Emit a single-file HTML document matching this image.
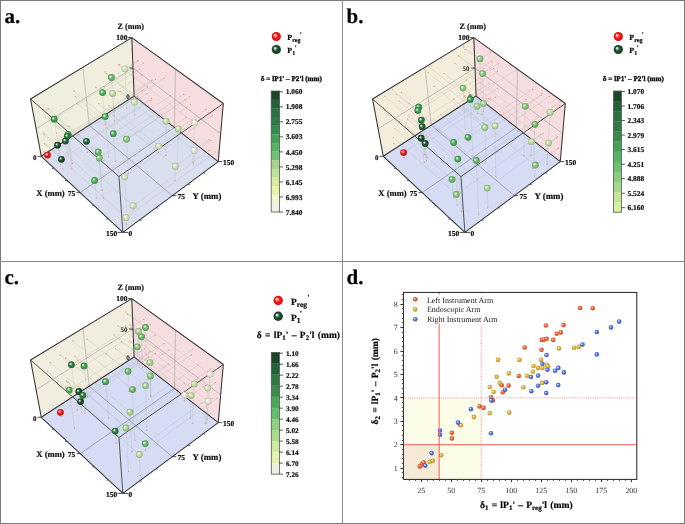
<!DOCTYPE html>
<html><head><meta charset="utf-8"><style>html,body{margin:0;padding:0;background:#fff;width:685px;height:524px;overflow:hidden}svg{display:block;will-change:transform}text{text-rendering:geometricPrecision}text[font-weight=bold]{stroke:#111;stroke-width:.2}</style></head>
<body><svg width="685" height="524" viewBox="0 0 685 524" font-family="'Liberation Serif', serif">
<defs><radialGradient id="g1" cx="0.5" cy="0.5" r="0.5" fx="0.33" fy="0.33"><stop offset="0" stop-color="#fcfdfb"/><stop offset="0.12" stop-color="#f8faf4"/><stop offset="0.35" stop-color="#e0eacb"/><stop offset="0.55" stop-color="#d4e2b6"/><stop offset="0.85" stop-color="#becba3"/><stop offset="1" stop-color="#a9b491"/></radialGradient><radialGradient id="g2" cx="0.5" cy="0.5" r="0.5" fx="0.33" fy="0.33"><stop offset="0" stop-color="#f7fbf7"/><stop offset="0.12" stop-color="#e8f4e7"/><stop offset="0.35" stop-color="#93ce92"/><stop offset="0.55" stop-color="#66b964"/><stop offset="0.85" stop-color="#5ba65a"/><stop offset="1" stop-color="#519450"/></radialGradient><radialGradient id="g3" cx="0.5" cy="0.5" r="0.5" fx="0.33" fy="0.33"><stop offset="0" stop-color="#f6faf6"/><stop offset="0.12" stop-color="#e4f2e5"/><stop offset="0.35" stop-color="#81c388"/><stop offset="0.55" stop-color="#4caa56"/><stop offset="0.85" stop-color="#44994d"/><stop offset="1" stop-color="#3c8844"/></radialGradient><radialGradient id="g4" cx="0.5" cy="0.5" r="0.5" fx="0.33" fy="0.33"><stop offset="0" stop-color="#fbfdfa"/><stop offset="0.12" stop-color="#f5f9f0"/><stop offset="0.35" stop-color="#d1e6b9"/><stop offset="0.55" stop-color="#bedc9c"/><stop offset="0.85" stop-color="#abc68c"/><stop offset="1" stop-color="#98b07c"/></radialGradient><radialGradient id="g5" cx="0.5" cy="0.5" r="0.5" fx="0.33" fy="0.33"><stop offset="0" stop-color="#f5f9f5"/><stop offset="0.12" stop-color="#e1efe3"/><stop offset="0.35" stop-color="#74b880"/><stop offset="0.55" stop-color="#399a4a"/><stop offset="0.85" stop-color="#338a42"/><stop offset="1" stop-color="#2d7b3b"/></radialGradient><radialGradient id="g6" cx="0.5" cy="0.5" r="0.5" fx="0.33" fy="0.33"><stop offset="0" stop-color="#f4f8f5"/><stop offset="0.12" stop-color="#dfebe2"/><stop offset="0.35" stop-color="#69a177"/><stop offset="0.55" stop-color="#2a7a3e"/><stop offset="0.85" stop-color="#256d37"/><stop offset="1" stop-color="#216131"/></radialGradient><radialGradient id="g7" cx="0.5" cy="0.5" r="0.5" fx="0.33" fy="0.33"><stop offset="0" stop-color="#f3f7f5"/><stop offset="0.12" stop-color="#dde7e1"/><stop offset="0.35" stop-color="#639075"/><stop offset="0.55" stop-color="#21613a"/><stop offset="0.85" stop-color="#1d5734"/><stop offset="1" stop-color="#1a4d2e"/></radialGradient><radialGradient id="g8" cx="0.5" cy="0.5" r="0.5" fx="0.33" fy="0.33"><stop offset="0" stop-color="#f3f5f4"/><stop offset="0.12" stop-color="#dce3df"/><stop offset="0.35" stop-color="#5f8069"/><stop offset="0.55" stop-color="#1b4a2a"/><stop offset="0.85" stop-color="#184225"/><stop offset="1" stop-color="#153b21"/></radialGradient><radialGradient id="g9" cx="0.5" cy="0.5" r="0.5" fx="0.33" fy="0.33"><stop offset="0" stop-color="#f8fcf8"/><stop offset="0.12" stop-color="#ecf6ea"/><stop offset="0.35" stop-color="#a8d7a0"/><stop offset="0.55" stop-color="#84c678"/><stop offset="0.85" stop-color="#76b26c"/><stop offset="1" stop-color="#699e60"/></radialGradient><radialGradient id="g10" cx="0.5" cy="0.5" r="0.5" fx="0.33" fy="0.33"><stop offset="0" stop-color="#fdfdfc"/><stop offset="0.12" stop-color="#fafbf8"/><stop offset="0.35" stop-color="#eceedf"/><stop offset="0.55" stop-color="#e4e8d2"/><stop offset="0.85" stop-color="#cdd0bd"/><stop offset="1" stop-color="#b6b9a8"/></radialGradient><radialGradient id="g11" cx="0.5" cy="0.5" r="0.5" fx="0.33" fy="0.33"><stop offset="0" stop-color="#fef3f3"/><stop offset="0.12" stop-color="#fcdbdb"/><stop offset="0.35" stop-color="#f15a5a"/><stop offset="0.55" stop-color="#ec1414"/><stop offset="0.85" stop-color="#d41212"/><stop offset="1" stop-color="#bc1010"/></radialGradient><radialGradient id="g12" cx="0.5" cy="0.5" r="0.5" fx="0.33" fy="0.33"><stop offset="0" stop-color="#fef3f3"/><stop offset="0.12" stop-color="#fedbdb"/><stop offset="0.35" stop-color="#fb5a5a"/><stop offset="0.55" stop-color="#fa1414"/><stop offset="0.85" stop-color="#e11212"/><stop offset="1" stop-color="#c81010"/></radialGradient><radialGradient id="g13" cx="0.5" cy="0.5" r="0.5" fx="0.33" fy="0.33"><stop offset="0" stop-color="#fafcf9"/><stop offset="0.12" stop-color="#f1f8ed"/><stop offset="0.35" stop-color="#bddfae"/><stop offset="0.55" stop-color="#a2d28c"/><stop offset="0.85" stop-color="#91bd7e"/><stop offset="1" stop-color="#81a870"/></radialGradient><radialGradient id="g14" cx="0.5" cy="0.5" r="0.5" fx="0.33" fy="0.33"><stop offset="0" stop-color="#fef6f4"/><stop offset="0.12" stop-color="#fce6df"/><stop offset="0.35" stop-color="#f48b69"/><stop offset="0.55" stop-color="#f05a2a"/><stop offset="0.85" stop-color="#d85125"/><stop offset="1" stop-color="#c04821"/></radialGradient><radialGradient id="g15" cx="0.5" cy="0.5" r="0.5" fx="0.33" fy="0.33"><stop offset="0" stop-color="#fdfaf4"/><stop offset="0.12" stop-color="#f9f2df"/><stop offset="0.35" stop-color="#e6c66b"/><stop offset="0.55" stop-color="#dcae2c"/><stop offset="0.85" stop-color="#c69c27"/><stop offset="1" stop-color="#b08b23"/></radialGradient><radialGradient id="g16" cx="0.5" cy="0.5" r="0.5" fx="0.33" fy="0.33"><stop offset="0" stop-color="#f6f7fd"/><stop offset="0.12" stop-color="#e4e9fa"/><stop offset="0.35" stop-color="#8499e7"/><stop offset="0.55" stop-color="#506ede"/><stop offset="0.85" stop-color="#4863c7"/><stop offset="1" stop-color="#4058b1"/></radialGradient></defs>
<rect width="685" height="524" fill="#fff"/>
<polygon points="41.28,156.28 134.14,96.04 131.79,37.65 30.51,98.95" fill="#f0eedd"/>
<polygon points="134.14,96.04 218.26,161.56 223.31,103.52 131.79,37.65" fill="#f5dde0"/>
<polygon points="41.28,156.28 122.85,232.32 218.26,161.56 134.14,96.04" fill="#d9dfee"/>
<line x1="89.23" y1="125.17" x2="82.94" y2="67.21" stroke="#959595" stroke-width="0.5"/>
<line x1="36.12" y1="128.83" x2="133.01" y2="68" stroke="#959595" stroke-width="0.5"/>
<line x1="174.43" y1="127.42" x2="175.46" y2="69.08" stroke="#959595" stroke-width="0.5"/>
<line x1="133.01" y1="68" x2="220.67" y2="133.8" stroke="#959595" stroke-width="0.5"/>
<line x1="80.23" y1="192.58" x2="174.43" y2="127.42" stroke="#6a6e78" stroke-width="0.5"/>
<line x1="89.23" y1="125.17" x2="172.25" y2="195.68" stroke="#6a6e78" stroke-width="0.5"/>
<line x1="41.28" y1="156.28" x2="134.14" y2="96.04" stroke="#333" stroke-width="1.05"/>
<line x1="134.14" y1="96.04" x2="218.26" y2="161.56" stroke="#333" stroke-width="1.05"/>
<line x1="134.14" y1="96.04" x2="131.79" y2="37.65" stroke="#333" stroke-width="1.05"/>
<line x1="30.51" y1="98.95" x2="131.79" y2="37.65" stroke="#333" stroke-width="1.05"/>
<line x1="131.79" y1="37.65" x2="223.31" y2="103.52" stroke="#333" stroke-width="1.05"/>
<line x1="41.28" y1="156.28" x2="30.51" y2="98.95" stroke="#333" stroke-width="1.05"/>
<line x1="218.26" y1="161.56" x2="223.31" y2="103.52" stroke="#333" stroke-width="1.05"/>
<line x1="41.28" y1="156.28" x2="122.85" y2="232.32" stroke="#333" stroke-width="1.05"/>
<line x1="122.85" y1="232.32" x2="218.26" y2="161.56" stroke="#333" stroke-width="1.05"/>
<line x1="30.51" y1="98.95" x2="118.96" y2="176.51" stroke="#3a3a3a" stroke-width="0.85"/>
<line x1="118.96" y1="176.51" x2="223.31" y2="103.52" stroke="#3a3a3a" stroke-width="0.85"/>
<line x1="118.96" y1="176.51" x2="122.85" y2="232.32" stroke="#3a3a3a" stroke-width="0.85"/>
<line x1="124.9" y1="68.8" x2="126.93" y2="108.2" stroke="#a0a0a0" stroke-width="0.4" stroke-opacity="0.5"/>
<line x1="124.9" y1="68.8" x2="119.45" y2="64.67" stroke="#a0a0a0" stroke-width="0.4" stroke-opacity="0.5"/>
<line x1="124.9" y1="68.8" x2="138.03" y2="60.6" stroke="#a0a0a0" stroke-width="0.4" stroke-opacity="0.5"/>
<line x1="111.4" y1="77.5" x2="114.12" y2="116" stroke="#a0a0a0" stroke-width="0.4" stroke-opacity="0.5"/>
<line x1="111.4" y1="77.5" x2="106.39" y2="73.6" stroke="#a0a0a0" stroke-width="0.4" stroke-opacity="0.5"/>
<line x1="111.4" y1="77.5" x2="137.64" y2="61.1" stroke="#a0a0a0" stroke-width="0.4" stroke-opacity="0.5"/>
<line x1="102.6" y1="92.6" x2="105.29" y2="124.4" stroke="#a0a0a0" stroke-width="0.4" stroke-opacity="0.5"/>
<line x1="102.6" y1="92.6" x2="95.81" y2="87.16" stroke="#a0a0a0" stroke-width="0.4" stroke-opacity="0.5"/>
<line x1="102.6" y1="92.6" x2="139.73" y2="69.14" stroke="#a0a0a0" stroke-width="0.4" stroke-opacity="0.5"/>
<line x1="112.6" y1="93.5" x2="114.53" y2="120.8" stroke="#a0a0a0" stroke-width="0.4" stroke-opacity="0.5"/>
<line x1="112.6" y1="93.5" x2="104.1" y2="86.75" stroke="#a0a0a0" stroke-width="0.4" stroke-opacity="0.5"/>
<line x1="112.6" y1="93.5" x2="141.61" y2="75.02" stroke="#a0a0a0" stroke-width="0.4" stroke-opacity="0.5"/>
<line x1="134.3" y1="102" x2="134.82" y2="114.9" stroke="#a0a0a0" stroke-width="0.4" stroke-opacity="0.5"/>
<line x1="134.3" y1="102" x2="120.72" y2="91.34" stroke="#a0a0a0" stroke-width="0.4" stroke-opacity="0.5"/>
<line x1="134.3" y1="102" x2="147.26" y2="93.54" stroke="#a0a0a0" stroke-width="0.4" stroke-opacity="0.5"/>
<line x1="54.2" y1="119.2" x2="60.6" y2="159.49" stroke="#a0a0a0" stroke-width="0.4" stroke-opacity="0.5"/>
<line x1="54.2" y1="119.2" x2="43.58" y2="109.9" stroke="#a0a0a0" stroke-width="0.4" stroke-opacity="0.5"/>
<line x1="54.2" y1="119.2" x2="143.47" y2="63.05" stroke="#a0a0a0" stroke-width="0.4" stroke-opacity="0.5"/>
<line x1="105.2" y1="116.6" x2="108.59" y2="157.1" stroke="#a0a0a0" stroke-width="0.4" stroke-opacity="0.5"/>
<line x1="105.2" y1="116.6" x2="74.15" y2="90.98" stroke="#a0a0a0" stroke-width="0.4" stroke-opacity="0.5"/>
<line x1="105.2" y1="116.6" x2="164.16" y2="78.28" stroke="#a0a0a0" stroke-width="0.4" stroke-opacity="0.5"/>
<line x1="68" y1="134.3" x2="72.12" y2="163.4" stroke="#a0a0a0" stroke-width="0.4" stroke-opacity="0.5"/>
<line x1="68" y1="134.3" x2="49.88" y2="118.36" stroke="#a0a0a0" stroke-width="0.4" stroke-opacity="0.5"/>
<line x1="68" y1="134.3" x2="151.64" y2="80.31" stroke="#a0a0a0" stroke-width="0.4" stroke-opacity="0.5"/>
<line x1="67.3" y1="136.3" x2="72.01" y2="169.2" stroke="#a0a0a0" stroke-width="0.4" stroke-opacity="0.5"/>
<line x1="67.3" y1="136.3" x2="45.33" y2="116.91" stroke="#a0a0a0" stroke-width="0.4" stroke-opacity="0.5"/>
<line x1="67.3" y1="136.3" x2="155.49" y2="79.28" stroke="#a0a0a0" stroke-width="0.4" stroke-opacity="0.5"/>
<line x1="65.4" y1="140.9" x2="67.16" y2="152.9" stroke="#a0a0a0" stroke-width="0.4" stroke-opacity="0.5"/>
<line x1="65.4" y1="140.9" x2="56.6" y2="133.08" stroke="#a0a0a0" stroke-width="0.4" stroke-opacity="0.5"/>
<line x1="65.4" y1="140.9" x2="142.7" y2="90.74" stroke="#a0a0a0" stroke-width="0.4" stroke-opacity="0.5"/>
<line x1="57.5" y1="145.2" x2="60.61" y2="164.6" stroke="#a0a0a0" stroke-width="0.4" stroke-opacity="0.5"/>
<line x1="57.5" y1="145.2" x2="43.86" y2="132.89" stroke="#a0a0a0" stroke-width="0.4" stroke-opacity="0.5"/>
<line x1="57.5" y1="145.2" x2="147.45" y2="86.88" stroke="#a0a0a0" stroke-width="0.4" stroke-opacity="0.5"/>
<line x1="86.4" y1="141.3" x2="87.68" y2="152.4" stroke="#a0a0a0" stroke-width="0.4" stroke-opacity="0.5"/>
<line x1="86.4" y1="141.3" x2="68.99" y2="126.16" stroke="#a0a0a0" stroke-width="0.4" stroke-opacity="0.5"/>
<line x1="86.4" y1="141.3" x2="151.51" y2="98.41" stroke="#a0a0a0" stroke-width="0.4" stroke-opacity="0.5"/>
<line x1="113.3" y1="133.7" x2="115.33" y2="161.25" stroke="#a0a0a0" stroke-width="0.4" stroke-opacity="0.5"/>
<line x1="113.3" y1="133.7" x2="76.88" y2="103.24" stroke="#a0a0a0" stroke-width="0.4" stroke-opacity="0.5"/>
<line x1="113.3" y1="133.7" x2="170.12" y2="95.86" stroke="#a0a0a0" stroke-width="0.4" stroke-opacity="0.5"/>
<line x1="126.5" y1="139.2" x2="128.37" y2="173.5" stroke="#a0a0a0" stroke-width="0.4" stroke-opacity="0.5"/>
<line x1="126.5" y1="139.2" x2="75.38" y2="96.74" stroke="#a0a0a0" stroke-width="0.4" stroke-opacity="0.5"/>
<line x1="126.5" y1="139.2" x2="184.81" y2="99.76" stroke="#a0a0a0" stroke-width="0.4" stroke-opacity="0.5"/>
<line x1="61.4" y1="159.3" x2="62.83" y2="168.4" stroke="#a0a0a0" stroke-width="0.4" stroke-opacity="0.5"/>
<line x1="61.4" y1="159.3" x2="44.59" y2="143.92" stroke="#a0a0a0" stroke-width="0.4" stroke-opacity="0.5"/>
<line x1="61.4" y1="159.3" x2="151.16" y2="100.08" stroke="#a0a0a0" stroke-width="0.4" stroke-opacity="0.5"/>
<line x1="98.2" y1="152" x2="102.01" y2="190.4" stroke="#a0a0a0" stroke-width="0.4" stroke-opacity="0.5"/>
<line x1="98.2" y1="152" x2="48.37" y2="108.65" stroke="#a0a0a0" stroke-width="0.4" stroke-opacity="0.5"/>
<line x1="98.2" y1="152" x2="183.87" y2="94.44" stroke="#a0a0a0" stroke-width="0.4" stroke-opacity="0.5"/>
<line x1="99.3" y1="158" x2="103.25" y2="198.2" stroke="#a0a0a0" stroke-width="0.4" stroke-opacity="0.5"/>
<line x1="99.3" y1="158" x2="43.73" y2="109.35" stroke="#a0a0a0" stroke-width="0.4" stroke-opacity="0.5"/>
<line x1="99.3" y1="158" x2="189.79" y2="96.77" stroke="#a0a0a0" stroke-width="0.4" stroke-opacity="0.5"/>
<line x1="94.6" y1="180.4" x2="96.55" y2="198.2" stroke="#a0a0a0" stroke-width="0.4" stroke-opacity="0.5"/>
<line x1="94.6" y1="180.4" x2="43.8" y2="134.46" stroke="#a0a0a0" stroke-width="0.4" stroke-opacity="0.5"/>
<line x1="94.6" y1="180.4" x2="185.83" y2="117.44" stroke="#a0a0a0" stroke-width="0.4" stroke-opacity="0.5"/>
<line x1="124.6" y1="176.8" x2="126.93" y2="215.15" stroke="#a0a0a0" stroke-width="0.4" stroke-opacity="0.5"/>
<line x1="124.6" y1="176.8" x2="46.97" y2="109.12" stroke="#a0a0a0" stroke-width="0.4" stroke-opacity="0.5"/>
<line x1="124.6" y1="176.8" x2="212.39" y2="115.13" stroke="#a0a0a0" stroke-width="0.4" stroke-opacity="0.5"/>
<line x1="133.2" y1="205.7" x2="133.39" y2="209.5" stroke="#a0a0a0" stroke-width="0.4" stroke-opacity="0.5"/>
<line x1="133.2" y1="205.7" x2="59.75" y2="140.01" stroke="#a0a0a0" stroke-width="0.4" stroke-opacity="0.5"/>
<line x1="133.2" y1="205.7" x2="209.21" y2="150.37" stroke="#a0a0a0" stroke-width="0.4" stroke-opacity="0.5"/>
<line x1="126.1" y1="217.7" x2="126.52" y2="224.4" stroke="#a0a0a0" stroke-width="0.4" stroke-opacity="0.5"/>
<line x1="126.1" y1="217.7" x2="46.64" y2="145.1" stroke="#a0a0a0" stroke-width="0.4" stroke-opacity="0.5"/>
<line x1="126.1" y1="217.7" x2="215.63" y2="152.09" stroke="#a0a0a0" stroke-width="0.4" stroke-opacity="0.5"/>
<line x1="166.1" y1="121.2" x2="165.92" y2="155.4" stroke="#a0a0a0" stroke-width="0.4" stroke-opacity="0.5"/>
<line x1="166.1" y1="121.2" x2="108.68" y2="76.46" stroke="#a0a0a0" stroke-width="0.4" stroke-opacity="0.5"/>
<line x1="166.1" y1="121.2" x2="190.58" y2="104.49" stroke="#a0a0a0" stroke-width="0.4" stroke-opacity="0.5"/>
<line x1="178.3" y1="128.9" x2="177.36" y2="169.3" stroke="#a0a0a0" stroke-width="0.4" stroke-opacity="0.5"/>
<line x1="178.3" y1="128.9" x2="105.1" y2="72" stroke="#a0a0a0" stroke-width="0.4" stroke-opacity="0.5"/>
<line x1="178.3" y1="128.9" x2="206.26" y2="109.47" stroke="#a0a0a0" stroke-width="0.4" stroke-opacity="0.5"/>
<line x1="194.6" y1="122.9" x2="192.74" y2="162.4" stroke="#a0a0a0" stroke-width="0.4" stroke-opacity="0.5"/>
<line x1="194.6" y1="122.9" x2="118.26" y2="64.95" stroke="#a0a0a0" stroke-width="0.4" stroke-opacity="0.5"/>
<line x1="194.6" y1="122.9" x2="209.17" y2="112.72" stroke="#a0a0a0" stroke-width="0.4" stroke-opacity="0.5"/>
<line x1="158.7" y1="146.1" x2="158.74" y2="152.4" stroke="#a0a0a0" stroke-width="0.4" stroke-opacity="0.5"/>
<line x1="158.7" y1="146.1" x2="108.9" y2="105.74" stroke="#a0a0a0" stroke-width="0.4" stroke-opacity="0.5"/>
<line x1="158.7" y1="146.1" x2="184.06" y2="128.41" stroke="#a0a0a0" stroke-width="0.4" stroke-opacity="0.5"/>
<line x1="194.1" y1="150.4" x2="193.44" y2="164.1" stroke="#a0a0a0" stroke-width="0.4" stroke-opacity="0.5"/>
<line x1="194.1" y1="150.4" x2="119.08" y2="91.4" stroke="#a0a0a0" stroke-width="0.4" stroke-opacity="0.5"/>
<line x1="194.1" y1="150.4" x2="208.9" y2="139.75" stroke="#a0a0a0" stroke-width="0.4" stroke-opacity="0.5"/>
<line x1="175.2" y1="166.2" x2="174.91" y2="180.6" stroke="#a0a0a0" stroke-width="0.4" stroke-opacity="0.5"/>
<line x1="175.2" y1="166.2" x2="98.59" y2="103.6" stroke="#a0a0a0" stroke-width="0.4" stroke-opacity="0.5"/>
<line x1="175.2" y1="166.2" x2="210.93" y2="140.43" stroke="#a0a0a0" stroke-width="0.4" stroke-opacity="0.5"/>
<line x1="47.5" y1="155.1" x2="47.97" y2="157.74" stroke="#a0a0a0" stroke-width="0.4" stroke-opacity="0.5"/>
<line x1="47.5" y1="155.1" x2="43.8" y2="151.68" stroke="#a0a0a0" stroke-width="0.4" stroke-opacity="0.5"/>
<line x1="47.5" y1="155.1" x2="137.86" y2="96.31" stroke="#a0a0a0" stroke-width="0.4" stroke-opacity="0.5"/>
<circle cx="126.93" cy="108.2" r="0.65" fill="#f08a68" fill-opacity="0.8"/>
<circle cx="119.45" cy="64.67" r="0.65" fill="#f08a68" fill-opacity="0.8"/>
<circle cx="138.03" cy="60.6" r="0.65" fill="#f08a68" fill-opacity="0.8"/>
<circle cx="114.12" cy="116" r="0.65" fill="#f08a68" fill-opacity="0.8"/>
<circle cx="106.39" cy="73.6" r="0.65" fill="#f08a68" fill-opacity="0.8"/>
<circle cx="137.64" cy="61.1" r="0.65" fill="#f08a68" fill-opacity="0.8"/>
<circle cx="105.29" cy="124.4" r="0.65" fill="#f08a68" fill-opacity="0.8"/>
<circle cx="95.81" cy="87.16" r="0.65" fill="#f08a68" fill-opacity="0.8"/>
<circle cx="139.73" cy="69.14" r="0.65" fill="#f08a68" fill-opacity="0.8"/>
<circle cx="114.53" cy="120.8" r="0.65" fill="#f08a68" fill-opacity="0.8"/>
<circle cx="104.1" cy="86.75" r="0.65" fill="#f08a68" fill-opacity="0.8"/>
<circle cx="141.61" cy="75.02" r="0.65" fill="#f08a68" fill-opacity="0.8"/>
<circle cx="134.82" cy="114.9" r="0.65" fill="#f08a68" fill-opacity="0.8"/>
<circle cx="120.72" cy="91.34" r="0.65" fill="#f08a68" fill-opacity="0.8"/>
<circle cx="147.26" cy="93.54" r="0.65" fill="#f08a68" fill-opacity="0.8"/>
<circle cx="60.6" cy="159.49" r="0.65" fill="#f08a68" fill-opacity="0.8"/>
<circle cx="43.58" cy="109.9" r="0.65" fill="#f08a68" fill-opacity="0.8"/>
<circle cx="143.47" cy="63.05" r="0.65" fill="#f08a68" fill-opacity="0.8"/>
<circle cx="108.59" cy="157.1" r="0.65" fill="#f08a68" fill-opacity="0.8"/>
<circle cx="74.15" cy="90.98" r="0.65" fill="#f08a68" fill-opacity="0.8"/>
<circle cx="164.16" cy="78.28" r="0.65" fill="#f08a68" fill-opacity="0.8"/>
<circle cx="72.12" cy="163.4" r="0.65" fill="#f08a68" fill-opacity="0.8"/>
<circle cx="49.88" cy="118.36" r="0.65" fill="#f08a68" fill-opacity="0.8"/>
<circle cx="151.64" cy="80.31" r="0.65" fill="#f08a68" fill-opacity="0.8"/>
<circle cx="72.01" cy="169.2" r="0.65" fill="#f08a68" fill-opacity="0.8"/>
<circle cx="45.33" cy="116.91" r="0.65" fill="#f08a68" fill-opacity="0.8"/>
<circle cx="155.49" cy="79.28" r="0.65" fill="#f08a68" fill-opacity="0.8"/>
<circle cx="67.16" cy="152.9" r="0.65" fill="#f08a68" fill-opacity="0.8"/>
<circle cx="56.6" cy="133.08" r="0.65" fill="#f08a68" fill-opacity="0.8"/>
<circle cx="142.7" cy="90.74" r="0.65" fill="#f08a68" fill-opacity="0.8"/>
<circle cx="60.61" cy="164.6" r="0.65" fill="#f08a68" fill-opacity="0.8"/>
<circle cx="43.86" cy="132.89" r="0.65" fill="#f08a68" fill-opacity="0.8"/>
<circle cx="147.45" cy="86.88" r="0.65" fill="#f08a68" fill-opacity="0.8"/>
<circle cx="87.68" cy="152.4" r="0.65" fill="#f08a68" fill-opacity="0.8"/>
<circle cx="68.99" cy="126.16" r="0.65" fill="#f08a68" fill-opacity="0.8"/>
<circle cx="151.51" cy="98.41" r="0.65" fill="#f08a68" fill-opacity="0.8"/>
<circle cx="115.33" cy="161.25" r="0.65" fill="#f08a68" fill-opacity="0.8"/>
<circle cx="76.88" cy="103.24" r="0.65" fill="#f08a68" fill-opacity="0.8"/>
<circle cx="170.12" cy="95.86" r="0.65" fill="#f08a68" fill-opacity="0.8"/>
<circle cx="128.37" cy="173.5" r="0.65" fill="#f08a68" fill-opacity="0.8"/>
<circle cx="75.38" cy="96.74" r="0.65" fill="#f08a68" fill-opacity="0.8"/>
<circle cx="184.81" cy="99.76" r="0.65" fill="#f08a68" fill-opacity="0.8"/>
<circle cx="62.83" cy="168.4" r="0.65" fill="#f08a68" fill-opacity="0.8"/>
<circle cx="44.59" cy="143.92" r="0.65" fill="#f08a68" fill-opacity="0.8"/>
<circle cx="151.16" cy="100.08" r="0.65" fill="#f08a68" fill-opacity="0.8"/>
<circle cx="102.01" cy="190.4" r="0.65" fill="#f08a68" fill-opacity="0.8"/>
<circle cx="48.37" cy="108.65" r="0.65" fill="#f08a68" fill-opacity="0.8"/>
<circle cx="183.87" cy="94.44" r="0.65" fill="#f08a68" fill-opacity="0.8"/>
<circle cx="103.25" cy="198.2" r="0.65" fill="#f08a68" fill-opacity="0.8"/>
<circle cx="43.73" cy="109.35" r="0.65" fill="#f08a68" fill-opacity="0.8"/>
<circle cx="189.79" cy="96.77" r="0.65" fill="#f08a68" fill-opacity="0.8"/>
<circle cx="96.55" cy="198.2" r="0.65" fill="#f08a68" fill-opacity="0.8"/>
<circle cx="43.8" cy="134.46" r="0.65" fill="#f08a68" fill-opacity="0.8"/>
<circle cx="185.83" cy="117.44" r="0.65" fill="#f08a68" fill-opacity="0.8"/>
<circle cx="126.93" cy="215.15" r="0.65" fill="#f08a68" fill-opacity="0.8"/>
<circle cx="46.97" cy="109.12" r="0.65" fill="#f08a68" fill-opacity="0.8"/>
<circle cx="212.39" cy="115.13" r="0.65" fill="#f08a68" fill-opacity="0.8"/>
<circle cx="133.39" cy="209.5" r="0.65" fill="#f08a68" fill-opacity="0.8"/>
<circle cx="59.75" cy="140.01" r="0.65" fill="#f08a68" fill-opacity="0.8"/>
<circle cx="209.21" cy="150.37" r="0.65" fill="#f08a68" fill-opacity="0.8"/>
<circle cx="126.52" cy="224.4" r="0.65" fill="#f08a68" fill-opacity="0.8"/>
<circle cx="46.64" cy="145.1" r="0.65" fill="#f08a68" fill-opacity="0.8"/>
<circle cx="215.63" cy="152.09" r="0.65" fill="#f08a68" fill-opacity="0.8"/>
<circle cx="165.92" cy="155.4" r="0.65" fill="#f08a68" fill-opacity="0.8"/>
<circle cx="108.68" cy="76.46" r="0.65" fill="#f08a68" fill-opacity="0.8"/>
<circle cx="190.58" cy="104.49" r="0.65" fill="#f08a68" fill-opacity="0.8"/>
<circle cx="177.36" cy="169.3" r="0.65" fill="#f08a68" fill-opacity="0.8"/>
<circle cx="105.1" cy="72" r="0.65" fill="#f08a68" fill-opacity="0.8"/>
<circle cx="206.26" cy="109.47" r="0.65" fill="#f08a68" fill-opacity="0.8"/>
<circle cx="192.74" cy="162.4" r="0.65" fill="#f08a68" fill-opacity="0.8"/>
<circle cx="118.26" cy="64.95" r="0.65" fill="#f08a68" fill-opacity="0.8"/>
<circle cx="209.17" cy="112.72" r="0.65" fill="#f08a68" fill-opacity="0.8"/>
<circle cx="158.74" cy="152.4" r="0.65" fill="#f08a68" fill-opacity="0.8"/>
<circle cx="108.9" cy="105.74" r="0.65" fill="#f08a68" fill-opacity="0.8"/>
<circle cx="184.06" cy="128.41" r="0.65" fill="#f08a68" fill-opacity="0.8"/>
<circle cx="193.44" cy="164.1" r="0.65" fill="#f08a68" fill-opacity="0.8"/>
<circle cx="119.08" cy="91.4" r="0.65" fill="#f08a68" fill-opacity="0.8"/>
<circle cx="208.9" cy="139.75" r="0.65" fill="#f08a68" fill-opacity="0.8"/>
<circle cx="174.91" cy="180.6" r="0.65" fill="#f08a68" fill-opacity="0.8"/>
<circle cx="98.59" cy="103.6" r="0.65" fill="#f08a68" fill-opacity="0.8"/>
<circle cx="210.93" cy="140.43" r="0.65" fill="#f08a68" fill-opacity="0.8"/>
<circle cx="47.97" cy="157.74" r="0.65" fill="#f08a68" fill-opacity="0.8"/>
<circle cx="43.8" cy="151.68" r="0.65" fill="#f08a68" fill-opacity="0.8"/>
<circle cx="137.86" cy="96.31" r="0.65" fill="#f08a68" fill-opacity="0.8"/>
<text x="117.5" y="29.3" font-size="8.2" font-weight="bold" text-anchor="start" fill="#111">Z (mm)</text>
<text x="127.6" y="40" font-size="7.5" font-weight="bold" text-anchor="end" fill="#111">100</text>
<text style="stroke:none" x="129.8" y="98.6" font-size="7" font-weight="bold" text-anchor="end" fill="#222">0</text>
<text x="36.4" y="160.2" font-size="7" font-weight="bold" text-anchor="end" fill="#111">0</text>
<text x="36.3" y="196.4" font-size="8.6" font-weight="bold" text-anchor="start" fill="#111">X (mm)</text>
<text x="75.3" y="196.3" font-size="7.5" font-weight="bold" text-anchor="end" fill="#111">75</text>
<text x="117.2" y="236.3" font-size="7.5" font-weight="bold" text-anchor="end" fill="#111">150</text>
<text x="128.4" y="236.3" font-size="7.5" font-weight="bold" text-anchor="start" fill="#111">0</text>
<text x="177.6" y="198.8" font-size="7.5" font-weight="bold" text-anchor="start" fill="#111">75</text>
<text x="192.6" y="199.1" font-size="8.8" font-weight="bold" text-anchor="start" fill="#111">Y (mm)</text>
<text x="223" y="165" font-size="7.5" font-weight="bold" text-anchor="start" fill="#111">150</text>
<line x1="117.5" y1="232.4" x2="122.8" y2="232.4" stroke="#222" stroke-width="0.8"/>
<line x1="76.5" y1="192.6" x2="80.2" y2="192.6" stroke="#222" stroke-width="0.8"/>
<line x1="122.8" y1="232.4" x2="128" y2="232.4" stroke="#222" stroke-width="0.8"/>
<line x1="172.3" y1="195.7" x2="176.2" y2="195.7" stroke="#222" stroke-width="0.8"/>
<line x1="218.3" y1="161.6" x2="222.3" y2="161.6" stroke="#222" stroke-width="0.8"/>
<line x1="37.5" y1="156.3" x2="41.3" y2="156.3" stroke="#222" stroke-width="0.8"/>
<line x1="128" y1="37.6" x2="131.8" y2="37.6" stroke="#222" stroke-width="0.8"/>
<line x1="129.3" y1="68" x2="133" y2="68" stroke="#222" stroke-width="0.8"/>
<line x1="52.09" y1="168.63" x2="53.89" y2="168.03" stroke="#333" stroke-width="0.8"/>
<line x1="139.72" y1="219.81" x2="141.52" y2="220.41" stroke="#333" stroke-width="0.8"/>
<line x1="65.06" y1="180.72" x2="66.86" y2="180.12" stroke="#333" stroke-width="0.8"/>
<line x1="156.18" y1="207.6" x2="157.98" y2="208.2" stroke="#333" stroke-width="0.8"/>
<line x1="92.2" y1="206.02" x2="94" y2="205.42" stroke="#333" stroke-width="0.8"/>
<line x1="187.95" y1="184.04" x2="189.75" y2="184.64" stroke="#333" stroke-width="0.8"/>
<line x1="106.41" y1="219.26" x2="108.21" y2="218.66" stroke="#333" stroke-width="0.8"/>
<line x1="203.28" y1="172.67" x2="205.08" y2="173.27" stroke="#333" stroke-width="0.8"/>
<circle cx="124.9" cy="68.8" r="3.4" fill="url(#g1)"/>
<circle cx="111.4" cy="77.5" r="3.4" fill="url(#g2)"/>
<circle cx="102.6" cy="92.6" r="3.4" fill="url(#g3)"/>
<circle cx="112.6" cy="93.5" r="3.4" fill="url(#g4)"/>
<circle cx="134.3" cy="102" r="3.4" fill="url(#g1)"/>
<circle cx="54.2" cy="119.2" r="3.4" fill="url(#g5)"/>
<circle cx="105.2" cy="116.6" r="3.4" fill="url(#g3)"/>
<circle cx="68" cy="134.3" r="3.4" fill="url(#g5)"/>
<circle cx="67.3" cy="136.3" r="3.4" fill="url(#g6)"/>
<circle cx="65.4" cy="140.9" r="3.4" fill="url(#g7)"/>
<circle cx="57.5" cy="145.2" r="3.4" fill="url(#g8)"/>
<circle cx="86.4" cy="141.3" r="3.4" fill="url(#g7)"/>
<circle cx="113.3" cy="133.7" r="3.4" fill="url(#g3)"/>
<circle cx="126.5" cy="139.2" r="3.4" fill="url(#g9)"/>
<circle cx="61.4" cy="159.3" r="3.4" fill="url(#g8)"/>
<circle cx="98.2" cy="152" r="3.4" fill="url(#g2)"/>
<circle cx="99.3" cy="158" r="3.4" fill="url(#g9)"/>
<circle cx="94.6" cy="180.4" r="3.4" fill="url(#g3)"/>
<circle cx="124.6" cy="176.8" r="3.4" fill="url(#g1)"/>
<circle cx="133.2" cy="205.7" r="3.4" fill="url(#g1)"/>
<circle cx="126.1" cy="217.7" r="3.4" fill="url(#g1)"/>
<circle cx="166.1" cy="121.2" r="3.4" fill="url(#g4)"/>
<circle cx="178.3" cy="128.9" r="3.4" fill="url(#g4)"/>
<circle cx="194.6" cy="122.9" r="3.4" fill="url(#g10)"/>
<circle cx="158.7" cy="146.1" r="3.4" fill="url(#g1)"/>
<circle cx="194.1" cy="150.4" r="3.4" fill="url(#g10)"/>
<circle cx="175.2" cy="166.2" r="3.4" fill="url(#g1)"/>
<circle cx="47.5" cy="155.1" r="3.4" fill="url(#g11)"/>
<circle cx="276.3" cy="36.5" r="4.6" fill="url(#g12)"/>
<circle cx="276.3" cy="49.5" r="4.6" fill="url(#g8)"/>
<text x="287.3" y="39.6" font-size="8" font-weight="bold">P<tspan font-size="6" dy="2">reg</tspan></text>
<text x="299.8" y="37.4" font-size="7" font-weight="bold">'</text>
<text x="287.3" y="52.6" font-size="8" font-weight="bold">P<tspan font-size="6" dy="2">1</tspan></text>
<text x="294.8" y="50.2" font-size="7" font-weight="bold">'</text>
<text style="stroke-width:.35" x="291.4" y="80.8" font-size="7.2" font-weight="bold" text-anchor="middle" fill="#111">δ = lP1' – P2'l (mm)</text>
<rect x="271.2" y="91" width="8.4" height="8.94" fill="#1b4628"/>
<rect x="271.2" y="99.64" width="8.4" height="8.94" fill="#22603a"/>
<rect x="271.2" y="108.29" width="8.4" height="8.94" fill="#2a7040"/>
<rect x="271.2" y="116.93" width="8.4" height="8.94" fill="#2f7a44"/>
<rect x="271.2" y="125.57" width="8.4" height="8.94" fill="#378a4a"/>
<rect x="271.2" y="134.21" width="8.4" height="8.94" fill="#45a256"/>
<rect x="271.2" y="142.86" width="8.4" height="8.94" fill="#58b464"/>
<rect x="271.2" y="151.5" width="8.4" height="8.94" fill="#70c072"/>
<rect x="271.2" y="160.14" width="8.4" height="8.94" fill="#a8d490"/>
<rect x="271.2" y="168.79" width="8.4" height="8.94" fill="#bee29a"/>
<rect x="271.2" y="177.43" width="8.4" height="8.94" fill="#d6ec9e"/>
<rect x="271.2" y="186.07" width="8.4" height="8.94" fill="#e8f4a8"/>
<rect x="271.2" y="194.71" width="8.4" height="8.94" fill="#f3f6d0"/>
<rect x="271.2" y="203.36" width="8.4" height="8.94" fill="#f1eee2"/>
<rect x="271.2" y="91" width="8.4" height="121" fill="none" stroke="#555" stroke-width="0.8"/>
<line x1="279.6" y1="91.8" x2="283.1" y2="91.8" stroke="#333" stroke-width="0.8"/>
<text x="285.8" y="94.4" font-size="7.4" font-weight="bold" text-anchor="start" fill="#111">1.060</text>
<line x1="279.6" y1="106.83" x2="283.1" y2="106.83" stroke="#333" stroke-width="0.8"/>
<text x="285.8" y="109.42" font-size="7.4" font-weight="bold" text-anchor="start" fill="#111">1.908</text>
<line x1="279.6" y1="121.85" x2="283.1" y2="121.85" stroke="#333" stroke-width="0.8"/>
<text x="285.8" y="124.45" font-size="7.4" font-weight="bold" text-anchor="start" fill="#111">2.755</text>
<line x1="279.6" y1="136.88" x2="283.1" y2="136.88" stroke="#333" stroke-width="0.8"/>
<text x="285.8" y="139.47" font-size="7.4" font-weight="bold" text-anchor="start" fill="#111">3.603</text>
<line x1="279.6" y1="151.9" x2="283.1" y2="151.9" stroke="#333" stroke-width="0.8"/>
<text x="285.8" y="154.5" font-size="7.4" font-weight="bold" text-anchor="start" fill="#111">4.450</text>
<line x1="279.6" y1="166.93" x2="283.1" y2="166.93" stroke="#333" stroke-width="0.8"/>
<text x="285.8" y="169.53" font-size="7.4" font-weight="bold" text-anchor="start" fill="#111">5.298</text>
<line x1="279.6" y1="181.95" x2="283.1" y2="181.95" stroke="#333" stroke-width="0.8"/>
<text x="285.8" y="184.55" font-size="7.4" font-weight="bold" text-anchor="start" fill="#111">6.145</text>
<line x1="279.6" y1="196.97" x2="283.1" y2="196.97" stroke="#333" stroke-width="0.8"/>
<text x="285.8" y="199.57" font-size="7.4" font-weight="bold" text-anchor="start" fill="#111">6.993</text>
<line x1="279.6" y1="212" x2="283.1" y2="212" stroke="#333" stroke-width="0.8"/>
<text x="285.8" y="214.6" font-size="7.4" font-weight="bold" text-anchor="start" fill="#111">7.840</text>
<polygon points="383.28,156.28 476.14,96.04 473.79,37.65 372.51,98.95" fill="#f5eddc"/>
<polygon points="476.14,96.04 560.26,161.56 565.31,103.52 473.79,37.65" fill="#f5dde0"/>
<polygon points="383.28,156.28 464.85,232.32 560.26,161.56 476.14,96.04" fill="#d5dcf4"/>
<line x1="431.23" y1="125.17" x2="424.94" y2="67.21" stroke="#959595" stroke-width="0.5"/>
<line x1="378.12" y1="128.83" x2="475.01" y2="68" stroke="#959595" stroke-width="0.5"/>
<line x1="516.43" y1="127.42" x2="517.46" y2="69.08" stroke="#959595" stroke-width="0.5"/>
<line x1="475.01" y1="68" x2="562.67" y2="133.8" stroke="#959595" stroke-width="0.5"/>
<line x1="422.23" y1="192.58" x2="516.43" y2="127.42" stroke="#6a6e78" stroke-width="0.5"/>
<line x1="431.23" y1="125.17" x2="514.25" y2="195.68" stroke="#6a6e78" stroke-width="0.5"/>
<line x1="383.28" y1="156.28" x2="476.14" y2="96.04" stroke="#333" stroke-width="1.05"/>
<line x1="476.14" y1="96.04" x2="560.26" y2="161.56" stroke="#333" stroke-width="1.05"/>
<line x1="476.14" y1="96.04" x2="473.79" y2="37.65" stroke="#333" stroke-width="1.05"/>
<line x1="372.51" y1="98.95" x2="473.79" y2="37.65" stroke="#333" stroke-width="1.05"/>
<line x1="473.79" y1="37.65" x2="565.31" y2="103.52" stroke="#333" stroke-width="1.05"/>
<line x1="383.28" y1="156.28" x2="372.51" y2="98.95" stroke="#333" stroke-width="1.05"/>
<line x1="560.26" y1="161.56" x2="565.31" y2="103.52" stroke="#333" stroke-width="1.05"/>
<line x1="383.28" y1="156.28" x2="464.85" y2="232.32" stroke="#333" stroke-width="1.05"/>
<line x1="464.85" y1="232.32" x2="560.26" y2="161.56" stroke="#333" stroke-width="1.05"/>
<line x1="372.51" y1="98.95" x2="460.96" y2="176.51" stroke="#3a3a3a" stroke-width="0.85"/>
<line x1="460.96" y1="176.51" x2="565.31" y2="103.52" stroke="#3a3a3a" stroke-width="0.85"/>
<line x1="460.96" y1="176.51" x2="464.85" y2="232.32" stroke="#3a3a3a" stroke-width="0.85"/>
<line x1="480" y1="58.9" x2="481.84" y2="114.4" stroke="#a0a0a0" stroke-width="0.4" stroke-opacity="0.5"/>
<line x1="480" y1="58.9" x2="463.52" y2="46.75" stroke="#a0a0a0" stroke-width="0.4" stroke-opacity="0.5"/>
<line x1="480" y1="58.9" x2="490.43" y2="52.4" stroke="#a0a0a0" stroke-width="0.4" stroke-opacity="0.5"/>
<line x1="482.6" y1="73.6" x2="484.1" y2="123.4" stroke="#a0a0a0" stroke-width="0.4" stroke-opacity="0.5"/>
<line x1="482.6" y1="73.6" x2="458.59" y2="55.58" stroke="#a0a0a0" stroke-width="0.4" stroke-opacity="0.5"/>
<line x1="482.6" y1="73.6" x2="498.25" y2="63.65" stroke="#a0a0a0" stroke-width="0.4" stroke-opacity="0.5"/>
<line x1="463" y1="88.1" x2="465.4" y2="129.3" stroke="#a0a0a0" stroke-width="0.4" stroke-opacity="0.5"/>
<line x1="463" y1="88.1" x2="444.11" y2="73.34" stroke="#a0a0a0" stroke-width="0.4" stroke-opacity="0.5"/>
<line x1="463" y1="88.1" x2="493.55" y2="68.64" stroke="#a0a0a0" stroke-width="0.4" stroke-opacity="0.5"/>
<line x1="470.3" y1="99.5" x2="473.03" y2="155.37" stroke="#a0a0a0" stroke-width="0.4" stroke-opacity="0.5"/>
<line x1="470.3" y1="99.5" x2="428.84" y2="66.85" stroke="#a0a0a0" stroke-width="0.4" stroke-opacity="0.5"/>
<line x1="470.3" y1="99.5" x2="515.94" y2="69.9" stroke="#a0a0a0" stroke-width="0.4" stroke-opacity="0.5"/>
<line x1="477" y1="106.2" x2="477.28" y2="113.3" stroke="#a0a0a0" stroke-width="0.4" stroke-opacity="0.5"/>
<line x1="477" y1="106.2" x2="464.42" y2="96.27" stroke="#a0a0a0" stroke-width="0.4" stroke-opacity="0.5"/>
<line x1="477" y1="106.2" x2="488.48" y2="98.66" stroke="#a0a0a0" stroke-width="0.4" stroke-opacity="0.5"/>
<line x1="483.4" y1="103.4" x2="483.65" y2="111.5" stroke="#a0a0a0" stroke-width="0.4" stroke-opacity="0.5"/>
<line x1="483.4" y1="103.4" x2="469.1" y2="92.23" stroke="#a0a0a0" stroke-width="0.4" stroke-opacity="0.5"/>
<line x1="483.4" y1="103.4" x2="490.15" y2="98.96" stroke="#a0a0a0" stroke-width="0.4" stroke-opacity="0.5"/>
<line x1="418.7" y1="107.2" x2="424.54" y2="154.4" stroke="#a0a0a0" stroke-width="0.4" stroke-opacity="0.5"/>
<line x1="418.7" y1="107.2" x2="401.45" y2="92.7" stroke="#a0a0a0" stroke-width="0.4" stroke-opacity="0.5"/>
<line x1="418.7" y1="107.2" x2="491.92" y2="61.03" stroke="#a0a0a0" stroke-width="0.4" stroke-opacity="0.5"/>
<line x1="417.9" y1="110.5" x2="422.09" y2="143.94" stroke="#a0a0a0" stroke-width="0.4" stroke-opacity="0.5"/>
<line x1="417.9" y1="110.5" x2="409.11" y2="103.07" stroke="#a0a0a0" stroke-width="0.4" stroke-opacity="0.5"/>
<line x1="417.9" y1="110.5" x2="483.78" y2="68.83" stroke="#a0a0a0" stroke-width="0.4" stroke-opacity="0.5"/>
<line x1="421.4" y1="120.1" x2="426.38" y2="160.9" stroke="#a0a0a0" stroke-width="0.4" stroke-opacity="0.5"/>
<line x1="421.4" y1="120.1" x2="399.08" y2="101.06" stroke="#a0a0a0" stroke-width="0.4" stroke-opacity="0.5"/>
<line x1="421.4" y1="120.1" x2="497.41" y2="71.4" stroke="#a0a0a0" stroke-width="0.4" stroke-opacity="0.5"/>
<line x1="422.2" y1="126.7" x2="424.96" y2="149.3" stroke="#a0a0a0" stroke-width="0.4" stroke-opacity="0.5"/>
<line x1="422.2" y1="126.7" x2="408.69" y2="115.09" stroke="#a0a0a0" stroke-width="0.4" stroke-opacity="0.5"/>
<line x1="422.2" y1="126.7" x2="489.06" y2="83.53" stroke="#a0a0a0" stroke-width="0.4" stroke-opacity="0.5"/>
<line x1="421.2" y1="138.2" x2="424.24" y2="162.4" stroke="#a0a0a0" stroke-width="0.4" stroke-opacity="0.5"/>
<line x1="421.2" y1="138.2" x2="399.34" y2="119.11" stroke="#a0a0a0" stroke-width="0.4" stroke-opacity="0.5"/>
<line x1="421.2" y1="138.2" x2="497.62" y2="88.28" stroke="#a0a0a0" stroke-width="0.4" stroke-opacity="0.5"/>
<line x1="425.2" y1="143.5" x2="426.88" y2="157.4" stroke="#a0a0a0" stroke-width="0.4" stroke-opacity="0.5"/>
<line x1="425.2" y1="143.5" x2="405.71" y2="126.44" stroke="#a0a0a0" stroke-width="0.4" stroke-opacity="0.5"/>
<line x1="425.2" y1="143.5" x2="495.56" y2="97.15" stroke="#a0a0a0" stroke-width="0.4" stroke-opacity="0.5"/>
<line x1="453.6" y1="142.4" x2="457.33" y2="190.6" stroke="#a0a0a0" stroke-width="0.4" stroke-opacity="0.5"/>
<line x1="453.6" y1="142.4" x2="396.53" y2="94.05" stroke="#a0a0a0" stroke-width="0.4" stroke-opacity="0.5"/>
<line x1="453.6" y1="142.4" x2="532.74" y2="89.26" stroke="#a0a0a0" stroke-width="0.4" stroke-opacity="0.5"/>
<line x1="468.1" y1="137.3" x2="468.34" y2="141.6" stroke="#a0a0a0" stroke-width="0.4" stroke-opacity="0.5"/>
<line x1="468.1" y1="137.3" x2="440.61" y2="114.51" stroke="#a0a0a0" stroke-width="0.4" stroke-opacity="0.5"/>
<line x1="468.1" y1="137.3" x2="503.78" y2="113.23" stroke="#a0a0a0" stroke-width="0.4" stroke-opacity="0.5"/>
<line x1="484.8" y1="127.4" x2="485.81" y2="161.9" stroke="#a0a0a0" stroke-width="0.4" stroke-opacity="0.5"/>
<line x1="484.8" y1="127.4" x2="433.9" y2="86.45" stroke="#a0a0a0" stroke-width="0.4" stroke-opacity="0.5"/>
<line x1="484.8" y1="127.4" x2="526.29" y2="99.36" stroke="#a0a0a0" stroke-width="0.4" stroke-opacity="0.5"/>
<line x1="495" y1="125.9" x2="495.72" y2="176.5" stroke="#a0a0a0" stroke-width="0.4" stroke-opacity="0.5"/>
<line x1="495" y1="125.9" x2="428.01" y2="72.68" stroke="#a0a0a0" stroke-width="0.4" stroke-opacity="0.5"/>
<line x1="495" y1="125.9" x2="542.01" y2="93.94" stroke="#a0a0a0" stroke-width="0.4" stroke-opacity="0.5"/>
<line x1="457.9" y1="159.1" x2="461.71" y2="211.5" stroke="#a0a0a0" stroke-width="0.4" stroke-opacity="0.5"/>
<line x1="457.9" y1="159.1" x2="384.71" y2="96.07" stroke="#a0a0a0" stroke-width="0.4" stroke-opacity="0.5"/>
<line x1="457.9" y1="159.1" x2="549.39" y2="96.39" stroke="#a0a0a0" stroke-width="0.4" stroke-opacity="0.5"/>
<line x1="476.3" y1="160.5" x2="478.69" y2="214.6" stroke="#a0a0a0" stroke-width="0.4" stroke-opacity="0.5"/>
<line x1="476.3" y1="160.5" x2="392.38" y2="89.49" stroke="#a0a0a0" stroke-width="0.4" stroke-opacity="0.5"/>
<line x1="476.3" y1="160.5" x2="560.05" y2="102.24" stroke="#a0a0a0" stroke-width="0.4" stroke-opacity="0.5"/>
<line x1="452" y1="179.3" x2="453.51" y2="197.2" stroke="#a0a0a0" stroke-width="0.4" stroke-opacity="0.5"/>
<line x1="452" y1="179.3" x2="394.92" y2="128.6" stroke="#a0a0a0" stroke-width="0.4" stroke-opacity="0.5"/>
<line x1="452" y1="179.3" x2="534.07" y2="122.1" stroke="#a0a0a0" stroke-width="0.4" stroke-opacity="0.5"/>
<line x1="456.4" y1="194.4" x2="457.26" y2="205.2" stroke="#a0a0a0" stroke-width="0.4" stroke-opacity="0.5"/>
<line x1="456.4" y1="194.4" x2="393.27" y2="137.57" stroke="#a0a0a0" stroke-width="0.4" stroke-opacity="0.5"/>
<line x1="456.4" y1="194.4" x2="540.6" y2="134.62" stroke="#a0a0a0" stroke-width="0.4" stroke-opacity="0.5"/>
<line x1="487.2" y1="188.1" x2="487.74" y2="207.2" stroke="#a0a0a0" stroke-width="0.4" stroke-opacity="0.5"/>
<line x1="487.2" y1="188.1" x2="407.54" y2="119.19" stroke="#a0a0a0" stroke-width="0.4" stroke-opacity="0.5"/>
<line x1="487.2" y1="188.1" x2="556.71" y2="137.96" stroke="#a0a0a0" stroke-width="0.4" stroke-opacity="0.5"/>
<line x1="525.3" y1="106.3" x2="523.83" y2="155.5" stroke="#a0a0a0" stroke-width="0.4" stroke-opacity="0.5"/>
<line x1="525.3" y1="106.3" x2="458.42" y2="56.06" stroke="#a0a0a0" stroke-width="0.4" stroke-opacity="0.5"/>
<line x1="525.3" y1="106.3" x2="541.32" y2="95.4" stroke="#a0a0a0" stroke-width="0.4" stroke-opacity="0.5"/>
<line x1="550.2" y1="112.4" x2="546.78" y2="164.07" stroke="#a0a0a0" stroke-width="0.4" stroke-opacity="0.5"/>
<line x1="550.2" y1="112.4" x2="464.99" y2="49.44" stroke="#a0a0a0" stroke-width="0.4" stroke-opacity="0.5"/>
<line x1="550.2" y1="112.4" x2="559.46" y2="105.94" stroke="#a0a0a0" stroke-width="0.4" stroke-opacity="0.5"/>
<line x1="535" y1="124.3" x2="533.02" y2="168.4" stroke="#a0a0a0" stroke-width="0.4" stroke-opacity="0.5"/>
<line x1="535" y1="124.3" x2="454.95" y2="63.33" stroke="#a0a0a0" stroke-width="0.4" stroke-opacity="0.5"/>
<line x1="535" y1="124.3" x2="554.82" y2="110.44" stroke="#a0a0a0" stroke-width="0.4" stroke-opacity="0.5"/>
<line x1="531.5" y1="141.7" x2="530.94" y2="155.5" stroke="#a0a0a0" stroke-width="0.4" stroke-opacity="0.5"/>
<line x1="531.5" y1="141.7" x2="464.36" y2="89.24" stroke="#a0a0a0" stroke-width="0.4" stroke-opacity="0.5"/>
<line x1="531.5" y1="141.7" x2="542.92" y2="133.59" stroke="#a0a0a0" stroke-width="0.4" stroke-opacity="0.5"/>
<line x1="548.5" y1="143.1" x2="547.08" y2="164.4" stroke="#a0a0a0" stroke-width="0.4" stroke-opacity="0.5"/>
<line x1="548.5" y1="143.1" x2="466.53" y2="79.99" stroke="#a0a0a0" stroke-width="0.4" stroke-opacity="0.5"/>
<line x1="548.5" y1="143.1" x2="557.43" y2="136.67" stroke="#a0a0a0" stroke-width="0.4" stroke-opacity="0.5"/>
<line x1="535.4" y1="165" x2="534.87" y2="176" stroke="#a0a0a0" stroke-width="0.4" stroke-opacity="0.5"/>
<line x1="535.4" y1="165" x2="453.26" y2="99.18" stroke="#a0a0a0" stroke-width="0.4" stroke-opacity="0.5"/>
<line x1="535.4" y1="165" x2="558.33" y2="148.25" stroke="#a0a0a0" stroke-width="0.4" stroke-opacity="0.5"/>
<line x1="403.6" y1="152.6" x2="404.43" y2="157.91" stroke="#a0a0a0" stroke-width="0.4" stroke-opacity="0.5"/>
<line x1="403.6" y1="152.6" x2="393.69" y2="143.61" stroke="#a0a0a0" stroke-width="0.4" stroke-opacity="0.5"/>
<line x1="403.6" y1="152.6" x2="486.15" y2="98.51" stroke="#a0a0a0" stroke-width="0.4" stroke-opacity="0.5"/>
<circle cx="481.84" cy="114.4" r="0.65" fill="#f08a68" fill-opacity="0.8"/>
<circle cx="463.52" cy="46.75" r="0.65" fill="#f08a68" fill-opacity="0.8"/>
<circle cx="490.43" cy="52.4" r="0.65" fill="#f08a68" fill-opacity="0.8"/>
<circle cx="484.1" cy="123.4" r="0.65" fill="#f08a68" fill-opacity="0.8"/>
<circle cx="458.59" cy="55.58" r="0.65" fill="#f08a68" fill-opacity="0.8"/>
<circle cx="498.25" cy="63.65" r="0.65" fill="#f08a68" fill-opacity="0.8"/>
<circle cx="465.4" cy="129.3" r="0.65" fill="#f08a68" fill-opacity="0.8"/>
<circle cx="444.11" cy="73.34" r="0.65" fill="#f08a68" fill-opacity="0.8"/>
<circle cx="493.55" cy="68.64" r="0.65" fill="#f08a68" fill-opacity="0.8"/>
<circle cx="473.03" cy="155.37" r="0.65" fill="#f08a68" fill-opacity="0.8"/>
<circle cx="428.84" cy="66.85" r="0.65" fill="#f08a68" fill-opacity="0.8"/>
<circle cx="515.94" cy="69.9" r="0.65" fill="#f08a68" fill-opacity="0.8"/>
<circle cx="477.28" cy="113.3" r="0.65" fill="#f08a68" fill-opacity="0.8"/>
<circle cx="464.42" cy="96.27" r="0.65" fill="#f08a68" fill-opacity="0.8"/>
<circle cx="488.48" cy="98.66" r="0.65" fill="#f08a68" fill-opacity="0.8"/>
<circle cx="483.65" cy="111.5" r="0.65" fill="#f08a68" fill-opacity="0.8"/>
<circle cx="469.1" cy="92.23" r="0.65" fill="#f08a68" fill-opacity="0.8"/>
<circle cx="490.15" cy="98.96" r="0.65" fill="#f08a68" fill-opacity="0.8"/>
<circle cx="424.54" cy="154.4" r="0.65" fill="#f08a68" fill-opacity="0.8"/>
<circle cx="401.45" cy="92.7" r="0.65" fill="#f08a68" fill-opacity="0.8"/>
<circle cx="491.92" cy="61.03" r="0.65" fill="#f08a68" fill-opacity="0.8"/>
<circle cx="422.09" cy="143.94" r="0.65" fill="#f08a68" fill-opacity="0.8"/>
<circle cx="409.11" cy="103.07" r="0.65" fill="#f08a68" fill-opacity="0.8"/>
<circle cx="483.78" cy="68.83" r="0.65" fill="#f08a68" fill-opacity="0.8"/>
<circle cx="426.38" cy="160.9" r="0.65" fill="#f08a68" fill-opacity="0.8"/>
<circle cx="399.08" cy="101.06" r="0.65" fill="#f08a68" fill-opacity="0.8"/>
<circle cx="497.41" cy="71.4" r="0.65" fill="#f08a68" fill-opacity="0.8"/>
<circle cx="424.96" cy="149.3" r="0.65" fill="#f08a68" fill-opacity="0.8"/>
<circle cx="408.69" cy="115.09" r="0.65" fill="#f08a68" fill-opacity="0.8"/>
<circle cx="489.06" cy="83.53" r="0.65" fill="#f08a68" fill-opacity="0.8"/>
<circle cx="424.24" cy="162.4" r="0.65" fill="#f08a68" fill-opacity="0.8"/>
<circle cx="399.34" cy="119.11" r="0.65" fill="#f08a68" fill-opacity="0.8"/>
<circle cx="497.62" cy="88.28" r="0.65" fill="#f08a68" fill-opacity="0.8"/>
<circle cx="426.88" cy="157.4" r="0.65" fill="#f08a68" fill-opacity="0.8"/>
<circle cx="405.71" cy="126.44" r="0.65" fill="#f08a68" fill-opacity="0.8"/>
<circle cx="495.56" cy="97.15" r="0.65" fill="#f08a68" fill-opacity="0.8"/>
<circle cx="457.33" cy="190.6" r="0.65" fill="#f08a68" fill-opacity="0.8"/>
<circle cx="396.53" cy="94.05" r="0.65" fill="#f08a68" fill-opacity="0.8"/>
<circle cx="532.74" cy="89.26" r="0.65" fill="#f08a68" fill-opacity="0.8"/>
<circle cx="468.34" cy="141.6" r="0.65" fill="#f08a68" fill-opacity="0.8"/>
<circle cx="440.61" cy="114.51" r="0.65" fill="#f08a68" fill-opacity="0.8"/>
<circle cx="503.78" cy="113.23" r="0.65" fill="#f08a68" fill-opacity="0.8"/>
<circle cx="485.81" cy="161.9" r="0.65" fill="#f08a68" fill-opacity="0.8"/>
<circle cx="433.9" cy="86.45" r="0.65" fill="#f08a68" fill-opacity="0.8"/>
<circle cx="526.29" cy="99.36" r="0.65" fill="#f08a68" fill-opacity="0.8"/>
<circle cx="495.72" cy="176.5" r="0.65" fill="#f08a68" fill-opacity="0.8"/>
<circle cx="428.01" cy="72.68" r="0.65" fill="#f08a68" fill-opacity="0.8"/>
<circle cx="542.01" cy="93.94" r="0.65" fill="#f08a68" fill-opacity="0.8"/>
<circle cx="461.71" cy="211.5" r="0.65" fill="#f08a68" fill-opacity="0.8"/>
<circle cx="384.71" cy="96.07" r="0.65" fill="#f08a68" fill-opacity="0.8"/>
<circle cx="549.39" cy="96.39" r="0.65" fill="#f08a68" fill-opacity="0.8"/>
<circle cx="478.69" cy="214.6" r="0.65" fill="#f08a68" fill-opacity="0.8"/>
<circle cx="392.38" cy="89.49" r="0.65" fill="#f08a68" fill-opacity="0.8"/>
<circle cx="560.05" cy="102.24" r="0.65" fill="#f08a68" fill-opacity="0.8"/>
<circle cx="453.51" cy="197.2" r="0.65" fill="#f08a68" fill-opacity="0.8"/>
<circle cx="394.92" cy="128.6" r="0.65" fill="#f08a68" fill-opacity="0.8"/>
<circle cx="534.07" cy="122.1" r="0.65" fill="#f08a68" fill-opacity="0.8"/>
<circle cx="457.26" cy="205.2" r="0.65" fill="#f08a68" fill-opacity="0.8"/>
<circle cx="393.27" cy="137.57" r="0.65" fill="#f08a68" fill-opacity="0.8"/>
<circle cx="540.6" cy="134.62" r="0.65" fill="#f08a68" fill-opacity="0.8"/>
<circle cx="487.74" cy="207.2" r="0.65" fill="#f08a68" fill-opacity="0.8"/>
<circle cx="407.54" cy="119.19" r="0.65" fill="#f08a68" fill-opacity="0.8"/>
<circle cx="556.71" cy="137.96" r="0.65" fill="#f08a68" fill-opacity="0.8"/>
<circle cx="523.83" cy="155.5" r="0.65" fill="#f08a68" fill-opacity="0.8"/>
<circle cx="458.42" cy="56.06" r="0.65" fill="#f08a68" fill-opacity="0.8"/>
<circle cx="541.32" cy="95.4" r="0.65" fill="#f08a68" fill-opacity="0.8"/>
<circle cx="546.78" cy="164.07" r="0.65" fill="#f08a68" fill-opacity="0.8"/>
<circle cx="464.99" cy="49.44" r="0.65" fill="#f08a68" fill-opacity="0.8"/>
<circle cx="559.46" cy="105.94" r="0.65" fill="#f08a68" fill-opacity="0.8"/>
<circle cx="533.02" cy="168.4" r="0.65" fill="#f08a68" fill-opacity="0.8"/>
<circle cx="454.95" cy="63.33" r="0.65" fill="#f08a68" fill-opacity="0.8"/>
<circle cx="554.82" cy="110.44" r="0.65" fill="#f08a68" fill-opacity="0.8"/>
<circle cx="530.94" cy="155.5" r="0.65" fill="#f08a68" fill-opacity="0.8"/>
<circle cx="464.36" cy="89.24" r="0.65" fill="#f08a68" fill-opacity="0.8"/>
<circle cx="542.92" cy="133.59" r="0.65" fill="#f08a68" fill-opacity="0.8"/>
<circle cx="547.08" cy="164.4" r="0.65" fill="#f08a68" fill-opacity="0.8"/>
<circle cx="466.53" cy="79.99" r="0.65" fill="#f08a68" fill-opacity="0.8"/>
<circle cx="557.43" cy="136.67" r="0.65" fill="#f08a68" fill-opacity="0.8"/>
<circle cx="534.87" cy="176" r="0.65" fill="#f08a68" fill-opacity="0.8"/>
<circle cx="453.26" cy="99.18" r="0.65" fill="#f08a68" fill-opacity="0.8"/>
<circle cx="558.33" cy="148.25" r="0.65" fill="#f08a68" fill-opacity="0.8"/>
<circle cx="404.43" cy="157.91" r="0.65" fill="#f08a68" fill-opacity="0.8"/>
<circle cx="393.69" cy="143.61" r="0.65" fill="#f08a68" fill-opacity="0.8"/>
<circle cx="486.15" cy="98.51" r="0.65" fill="#f08a68" fill-opacity="0.8"/>
<text x="459.5" y="29.3" font-size="8.2" font-weight="bold" text-anchor="start" fill="#111">Z (mm)</text>
<text x="469.6" y="40" font-size="7.5" font-weight="bold" text-anchor="end" fill="#111">100</text>
<text style="stroke:none" x="469.6" y="70.6" font-size="7" font-weight="bold" text-anchor="end" fill="#2a2a2a">50</text>
<text style="stroke:none" x="471.8" y="98.6" font-size="7" font-weight="bold" text-anchor="end" fill="#222">0</text>
<text x="378.4" y="160.2" font-size="7" font-weight="bold" text-anchor="end" fill="#111">0</text>
<text x="378.3" y="196.4" font-size="8.6" font-weight="bold" text-anchor="start" fill="#111">X (mm)</text>
<text x="417.3" y="196.3" font-size="7.5" font-weight="bold" text-anchor="end" fill="#111">75</text>
<text x="459.2" y="236.3" font-size="7.5" font-weight="bold" text-anchor="end" fill="#111">150</text>
<text x="470.4" y="236.3" font-size="7.5" font-weight="bold" text-anchor="start" fill="#111">0</text>
<text x="519.6" y="198.8" font-size="7.5" font-weight="bold" text-anchor="start" fill="#111">75</text>
<text x="534.6" y="199.1" font-size="8.8" font-weight="bold" text-anchor="start" fill="#111">Y (mm)</text>
<text x="565" y="165" font-size="7.5" font-weight="bold" text-anchor="start" fill="#111">150</text>
<line x1="459.5" y1="232.4" x2="464.8" y2="232.4" stroke="#222" stroke-width="0.8"/>
<line x1="418.5" y1="192.6" x2="422.2" y2="192.6" stroke="#222" stroke-width="0.8"/>
<line x1="464.8" y1="232.4" x2="470" y2="232.4" stroke="#222" stroke-width="0.8"/>
<line x1="514.3" y1="195.7" x2="518.2" y2="195.7" stroke="#222" stroke-width="0.8"/>
<line x1="560.3" y1="161.6" x2="564.3" y2="161.6" stroke="#222" stroke-width="0.8"/>
<line x1="379.5" y1="156.3" x2="383.3" y2="156.3" stroke="#222" stroke-width="0.8"/>
<line x1="470" y1="37.6" x2="473.8" y2="37.6" stroke="#222" stroke-width="0.8"/>
<line x1="471.3" y1="68" x2="475" y2="68" stroke="#222" stroke-width="0.8"/>
<line x1="394.09" y1="168.63" x2="395.89" y2="168.03" stroke="#333" stroke-width="0.8"/>
<line x1="481.72" y1="219.81" x2="483.52" y2="220.41" stroke="#333" stroke-width="0.8"/>
<line x1="407.06" y1="180.72" x2="408.86" y2="180.12" stroke="#333" stroke-width="0.8"/>
<line x1="498.18" y1="207.6" x2="499.98" y2="208.2" stroke="#333" stroke-width="0.8"/>
<line x1="434.2" y1="206.02" x2="436" y2="205.42" stroke="#333" stroke-width="0.8"/>
<line x1="529.95" y1="184.04" x2="531.75" y2="184.64" stroke="#333" stroke-width="0.8"/>
<line x1="448.41" y1="219.26" x2="450.21" y2="218.66" stroke="#333" stroke-width="0.8"/>
<line x1="545.28" y1="172.67" x2="547.08" y2="173.27" stroke="#333" stroke-width="0.8"/>
<circle cx="480" cy="58.9" r="3.4" fill="url(#g9)"/>
<circle cx="482.6" cy="73.6" r="3.4" fill="url(#g9)"/>
<circle cx="463" cy="88.1" r="3.4" fill="url(#g9)"/>
<circle cx="470.3" cy="99.5" r="3.4" fill="url(#g5)"/>
<circle cx="477" cy="106.2" r="3.4" fill="url(#g13)"/>
<circle cx="483.4" cy="103.4" r="3.4" fill="url(#g13)"/>
<circle cx="418.7" cy="107.2" r="3.4" fill="url(#g5)"/>
<circle cx="417.9" cy="110.5" r="3.4" fill="url(#g5)"/>
<circle cx="421.4" cy="120.1" r="3.4" fill="url(#g6)"/>
<circle cx="422.2" cy="126.7" r="3.4" fill="url(#g7)"/>
<circle cx="421.2" cy="138.2" r="3.4" fill="url(#g8)"/>
<circle cx="425.2" cy="143.5" r="3.4" fill="url(#g8)"/>
<circle cx="453.6" cy="142.4" r="3.4" fill="url(#g3)"/>
<circle cx="468.1" cy="137.3" r="3.4" fill="url(#g3)"/>
<circle cx="484.8" cy="127.4" r="3.4" fill="url(#g13)"/>
<circle cx="495" cy="125.9" r="3.4" fill="url(#g4)"/>
<circle cx="457.9" cy="159.1" r="3.4" fill="url(#g3)"/>
<circle cx="476.3" cy="160.5" r="3.4" fill="url(#g2)"/>
<circle cx="452" cy="179.3" r="3.4" fill="url(#g2)"/>
<circle cx="456.4" cy="194.4" r="3.4" fill="url(#g9)"/>
<circle cx="487.2" cy="188.1" r="3.4" fill="url(#g13)"/>
<circle cx="525.3" cy="106.3" r="3.4" fill="url(#g9)"/>
<circle cx="550.2" cy="112.4" r="3.4" fill="url(#g4)"/>
<circle cx="535" cy="124.3" r="3.4" fill="url(#g2)"/>
<circle cx="531.5" cy="141.7" r="3.4" fill="url(#g4)"/>
<circle cx="548.5" cy="143.1" r="3.4" fill="url(#g4)"/>
<circle cx="535.4" cy="165" r="3.4" fill="url(#g9)"/>
<circle cx="403.6" cy="152.6" r="3.4" fill="url(#g11)"/>
<circle cx="618.3" cy="36.5" r="4.6" fill="url(#g12)"/>
<circle cx="618.3" cy="49.5" r="4.6" fill="url(#g8)"/>
<text x="629.3" y="39.6" font-size="8" font-weight="bold">P<tspan font-size="6" dy="2">reg</tspan></text>
<text x="641.8" y="37.4" font-size="7" font-weight="bold">'</text>
<text x="629.3" y="52.6" font-size="8" font-weight="bold">P<tspan font-size="6" dy="2">1</tspan></text>
<text x="636.8" y="50.2" font-size="7" font-weight="bold">'</text>
<text style="stroke-width:.35" x="633.4" y="80.8" font-size="7.2" font-weight="bold" text-anchor="middle" fill="#111">δ = lP1' – P2'l (mm)</text>
<rect x="613.4" y="91" width="8" height="10.4" fill="#1b4628"/>
<rect x="613.4" y="101.1" width="8" height="10.4" fill="#22603a"/>
<rect x="613.4" y="111.2" width="8" height="10.4" fill="#2a7040"/>
<rect x="613.4" y="121.3" width="8" height="10.4" fill="#2f7a44"/>
<rect x="613.4" y="131.4" width="8" height="10.4" fill="#378a4a"/>
<rect x="613.4" y="141.5" width="8" height="10.4" fill="#45a256"/>
<rect x="613.4" y="151.6" width="8" height="10.4" fill="#58b464"/>
<rect x="613.4" y="161.7" width="8" height="10.4" fill="#6cc070"/>
<rect x="613.4" y="171.8" width="8" height="10.4" fill="#88cc80"/>
<rect x="613.4" y="181.9" width="8" height="10.4" fill="#a6d890"/>
<rect x="613.4" y="192" width="8" height="10.4" fill="#c4e49c"/>
<rect x="613.4" y="202.1" width="8" height="10.4" fill="#d8eea6"/>
<rect x="613.4" y="91" width="8" height="121.2" fill="none" stroke="#555" stroke-width="0.8"/>
<line x1="621.4" y1="91.5" x2="624.9" y2="91.5" stroke="#333" stroke-width="0.8"/>
<text x="627.5" y="94.1" font-size="7.4" font-weight="bold" text-anchor="start" fill="#111">1.070</text>
<line x1="621.4" y1="106.03" x2="624.9" y2="106.03" stroke="#333" stroke-width="0.8"/>
<text x="627.5" y="108.62" font-size="7.4" font-weight="bold" text-anchor="start" fill="#111">1.706</text>
<line x1="621.4" y1="120.55" x2="624.9" y2="120.55" stroke="#333" stroke-width="0.8"/>
<text x="627.5" y="123.15" font-size="7.4" font-weight="bold" text-anchor="start" fill="#111">2.343</text>
<line x1="621.4" y1="135.07" x2="624.9" y2="135.07" stroke="#333" stroke-width="0.8"/>
<text x="627.5" y="137.67" font-size="7.4" font-weight="bold" text-anchor="start" fill="#111">2.979</text>
<line x1="621.4" y1="149.6" x2="624.9" y2="149.6" stroke="#333" stroke-width="0.8"/>
<text x="627.5" y="152.2" font-size="7.4" font-weight="bold" text-anchor="start" fill="#111">3.615</text>
<line x1="621.4" y1="164.12" x2="624.9" y2="164.12" stroke="#333" stroke-width="0.8"/>
<text x="627.5" y="166.72" font-size="7.4" font-weight="bold" text-anchor="start" fill="#111">4.251</text>
<line x1="621.4" y1="178.65" x2="624.9" y2="178.65" stroke="#333" stroke-width="0.8"/>
<text x="627.5" y="181.25" font-size="7.4" font-weight="bold" text-anchor="start" fill="#111">4.888</text>
<line x1="621.4" y1="193.17" x2="624.9" y2="193.17" stroke="#333" stroke-width="0.8"/>
<text x="627.5" y="195.77" font-size="7.4" font-weight="bold" text-anchor="start" fill="#111">5.524</text>
<line x1="621.4" y1="207.7" x2="624.9" y2="207.7" stroke="#333" stroke-width="0.8"/>
<text x="627.5" y="210.3" font-size="7.4" font-weight="bold" text-anchor="start" fill="#111">6.160</text>
<polygon points="41.28,417.28 134.14,357.04 131.79,298.65 30.51,359.95" fill="#f1eedf"/>
<polygon points="134.14,357.04 218.26,422.56 223.31,364.52 131.79,298.65" fill="#f5dde0"/>
<polygon points="41.28,417.28 122.85,493.32 218.26,422.56 134.14,357.04" fill="#d5dcf4"/>
<line x1="89.23" y1="386.17" x2="82.94" y2="328.21" stroke="#959595" stroke-width="0.5"/>
<line x1="36.12" y1="389.83" x2="133.01" y2="329" stroke="#959595" stroke-width="0.5"/>
<line x1="174.43" y1="388.42" x2="175.46" y2="330.08" stroke="#959595" stroke-width="0.5"/>
<line x1="133.01" y1="329" x2="220.67" y2="394.8" stroke="#959595" stroke-width="0.5"/>
<line x1="80.23" y1="453.58" x2="174.43" y2="388.42" stroke="#6a6e78" stroke-width="0.5"/>
<line x1="89.23" y1="386.17" x2="172.25" y2="456.68" stroke="#6a6e78" stroke-width="0.5"/>
<line x1="41.28" y1="417.28" x2="134.14" y2="357.04" stroke="#333" stroke-width="1.05"/>
<line x1="134.14" y1="357.04" x2="218.26" y2="422.56" stroke="#333" stroke-width="1.05"/>
<line x1="134.14" y1="357.04" x2="131.79" y2="298.65" stroke="#333" stroke-width="1.05"/>
<line x1="30.51" y1="359.95" x2="131.79" y2="298.65" stroke="#333" stroke-width="1.05"/>
<line x1="131.79" y1="298.65" x2="223.31" y2="364.52" stroke="#333" stroke-width="1.05"/>
<line x1="41.28" y1="417.28" x2="30.51" y2="359.95" stroke="#333" stroke-width="1.05"/>
<line x1="218.26" y1="422.56" x2="223.31" y2="364.52" stroke="#333" stroke-width="1.05"/>
<line x1="41.28" y1="417.28" x2="122.85" y2="493.32" stroke="#333" stroke-width="1.05"/>
<line x1="122.85" y1="493.32" x2="218.26" y2="422.56" stroke="#333" stroke-width="1.05"/>
<line x1="30.51" y1="359.95" x2="118.96" y2="437.51" stroke="#3a3a3a" stroke-width="0.85"/>
<line x1="118.96" y1="437.51" x2="223.31" y2="364.52" stroke="#3a3a3a" stroke-width="0.85"/>
<line x1="118.96" y1="437.51" x2="122.85" y2="493.32" stroke="#3a3a3a" stroke-width="0.85"/>
<line x1="71.4" y1="364.7" x2="77.32" y2="410" stroke="#a0a0a0" stroke-width="0.4" stroke-opacity="0.5"/>
<line x1="71.4" y1="364.7" x2="60.27" y2="355.33" stroke="#a0a0a0" stroke-width="0.4" stroke-opacity="0.5"/>
<line x1="71.4" y1="364.7" x2="143.72" y2="319.45" stroke="#a0a0a0" stroke-width="0.4" stroke-opacity="0.5"/>
<line x1="84" y1="365.9" x2="87.55" y2="397.4" stroke="#a0a0a0" stroke-width="0.4" stroke-opacity="0.5"/>
<line x1="84" y1="365.9" x2="77" y2="360.08" stroke="#a0a0a0" stroke-width="0.4" stroke-opacity="0.5"/>
<line x1="84" y1="365.9" x2="139.99" y2="330.51" stroke="#a0a0a0" stroke-width="0.4" stroke-opacity="0.5"/>
<line x1="69.3" y1="390.1" x2="74.56" y2="428" stroke="#a0a0a0" stroke-width="0.4" stroke-opacity="0.5"/>
<line x1="69.3" y1="390.1" x2="47.49" y2="371.07" stroke="#a0a0a0" stroke-width="0.4" stroke-opacity="0.5"/>
<line x1="69.3" y1="390.1" x2="155.1" y2="334.98" stroke="#a0a0a0" stroke-width="0.4" stroke-opacity="0.5"/>
<line x1="78.8" y1="391.5" x2="80.83" y2="407.79" stroke="#a0a0a0" stroke-width="0.4" stroke-opacity="0.5"/>
<line x1="78.8" y1="391.5" x2="67.99" y2="382.15" stroke="#a0a0a0" stroke-width="0.4" stroke-opacity="0.5"/>
<line x1="78.8" y1="391.5" x2="144.54" y2="348.92" stroke="#a0a0a0" stroke-width="0.4" stroke-opacity="0.5"/>
<line x1="82.8" y1="395.3" x2="84.94" y2="413.2" stroke="#a0a0a0" stroke-width="0.4" stroke-opacity="0.5"/>
<line x1="82.8" y1="395.3" x2="66.58" y2="381.27" stroke="#a0a0a0" stroke-width="0.4" stroke-opacity="0.5"/>
<line x1="82.8" y1="395.3" x2="150.02" y2="351.46" stroke="#a0a0a0" stroke-width="0.4" stroke-opacity="0.5"/>
<line x1="80.5" y1="401.6" x2="81.84" y2="412.36" stroke="#a0a0a0" stroke-width="0.4" stroke-opacity="0.5"/>
<line x1="80.5" y1="401.6" x2="66.35" y2="389.23" stroke="#a0a0a0" stroke-width="0.4" stroke-opacity="0.5"/>
<line x1="80.5" y1="401.6" x2="148.2" y2="357.22" stroke="#a0a0a0" stroke-width="0.4" stroke-opacity="0.5"/>
<line x1="105.6" y1="381.7" x2="108.63" y2="417.9" stroke="#a0a0a0" stroke-width="0.4" stroke-opacity="0.5"/>
<line x1="105.6" y1="381.7" x2="74.85" y2="356.19" stroke="#a0a0a0" stroke-width="0.4" stroke-opacity="0.5"/>
<line x1="105.6" y1="381.7" x2="164.03" y2="343.54" stroke="#a0a0a0" stroke-width="0.4" stroke-opacity="0.5"/>
<line x1="128" y1="371.3" x2="129.01" y2="391.4" stroke="#a0a0a0" stroke-width="0.4" stroke-opacity="0.5"/>
<line x1="128" y1="371.3" x2="106.26" y2="353.93" stroke="#a0a0a0" stroke-width="0.4" stroke-opacity="0.5"/>
<line x1="128" y1="371.3" x2="155.25" y2="353.42" stroke="#a0a0a0" stroke-width="0.4" stroke-opacity="0.5"/>
<line x1="132.5" y1="389.6" x2="134.77" y2="440.4" stroke="#a0a0a0" stroke-width="0.4" stroke-opacity="0.5"/>
<line x1="132.5" y1="389.6" x2="73.08" y2="341.21" stroke="#a0a0a0" stroke-width="0.4" stroke-opacity="0.5"/>
<line x1="132.5" y1="389.6" x2="192.62" y2="349.23" stroke="#a0a0a0" stroke-width="0.4" stroke-opacity="0.5"/>
<line x1="145.6" y1="327.5" x2="146.66" y2="373.3" stroke="#a0a0a0" stroke-width="0.4" stroke-opacity="0.5"/>
<line x1="145.6" y1="327.5" x2="127.51" y2="314.13" stroke="#a0a0a0" stroke-width="0.4" stroke-opacity="0.5"/>
<line x1="145.6" y1="327.5" x2="150.41" y2="324.46" stroke="#a0a0a0" stroke-width="0.4" stroke-opacity="0.5"/>
<line x1="138.6" y1="331.5" x2="139.71" y2="365.3" stroke="#a0a0a0" stroke-width="0.4" stroke-opacity="0.5"/>
<line x1="138.6" y1="331.5" x2="129.92" y2="325" stroke="#a0a0a0" stroke-width="0.4" stroke-opacity="0.5"/>
<line x1="138.6" y1="331.5" x2="141.47" y2="329.69" stroke="#a0a0a0" stroke-width="0.4" stroke-opacity="0.5"/>
<line x1="141.5" y1="336.8" x2="142.39" y2="367.6" stroke="#a0a0a0" stroke-width="0.4" stroke-opacity="0.5"/>
<line x1="141.5" y1="336.8" x2="129.91" y2="328.08" stroke="#a0a0a0" stroke-width="0.4" stroke-opacity="0.5"/>
<line x1="141.5" y1="336.8" x2="144.5" y2="334.89" stroke="#a0a0a0" stroke-width="0.4" stroke-opacity="0.5"/>
<line x1="137.2" y1="346.8" x2="137.79" y2="363.4" stroke="#a0a0a0" stroke-width="0.4" stroke-opacity="0.5"/>
<line x1="137.2" y1="346.8" x2="130.96" y2="342.02" stroke="#a0a0a0" stroke-width="0.4" stroke-opacity="0.5"/>
<line x1="137.2" y1="346.8" x2="139.71" y2="345.18" stroke="#a0a0a0" stroke-width="0.4" stroke-opacity="0.5"/>
<line x1="150" y1="362.6" x2="150.61" y2="396.31" stroke="#a0a0a0" stroke-width="0.4" stroke-opacity="0.5"/>
<line x1="150" y1="362.6" x2="114.01" y2="334.82" stroke="#a0a0a0" stroke-width="0.4" stroke-opacity="0.5"/>
<line x1="150" y1="362.6" x2="168.97" y2="350.08" stroke="#a0a0a0" stroke-width="0.4" stroke-opacity="0.5"/>
<line x1="150.3" y1="376" x2="150.65" y2="395.5" stroke="#a0a0a0" stroke-width="0.4" stroke-opacity="0.5"/>
<line x1="150.3" y1="376" x2="115.54" y2="348.7" stroke="#a0a0a0" stroke-width="0.4" stroke-opacity="0.5"/>
<line x1="150.3" y1="376" x2="168.3" y2="363.93" stroke="#a0a0a0" stroke-width="0.4" stroke-opacity="0.5"/>
<line x1="145.6" y1="385.7" x2="146.72" y2="430.5" stroke="#a0a0a0" stroke-width="0.4" stroke-opacity="0.5"/>
<line x1="145.6" y1="385.7" x2="87.36" y2="339.15" stroke="#a0a0a0" stroke-width="0.4" stroke-opacity="0.5"/>
<line x1="145.6" y1="385.7" x2="191.37" y2="354.8" stroke="#a0a0a0" stroke-width="0.4" stroke-opacity="0.5"/>
<line x1="130" y1="412.1" x2="131.97" y2="451.5" stroke="#a0a0a0" stroke-width="0.4" stroke-opacity="0.5"/>
<line x1="130" y1="412.1" x2="65.58" y2="357.99" stroke="#a0a0a0" stroke-width="0.4" stroke-opacity="0.5"/>
<line x1="130" y1="412.1" x2="198.35" y2="365.17" stroke="#a0a0a0" stroke-width="0.4" stroke-opacity="0.5"/>
<line x1="115.2" y1="431.1" x2="116.12" y2="443.3" stroke="#a0a0a0" stroke-width="0.4" stroke-opacity="0.5"/>
<line x1="115.2" y1="431.1" x2="65.74" y2="387.9" stroke="#a0a0a0" stroke-width="0.4" stroke-opacity="0.5"/>
<line x1="115.2" y1="431.1" x2="184.23" y2="383.26" stroke="#a0a0a0" stroke-width="0.4" stroke-opacity="0.5"/>
<line x1="126" y1="427.9" x2="128.5" y2="471.3" stroke="#a0a0a0" stroke-width="0.4" stroke-opacity="0.5"/>
<line x1="126" y1="427.9" x2="50.13" y2="362.64" stroke="#a0a0a0" stroke-width="0.4" stroke-opacity="0.5"/>
<line x1="126" y1="427.9" x2="210.28" y2="369.24" stroke="#a0a0a0" stroke-width="0.4" stroke-opacity="0.5"/>
<line x1="145.2" y1="443.6" x2="145.39" y2="450.3" stroke="#a0a0a0" stroke-width="0.4" stroke-opacity="0.5"/>
<line x1="145.2" y1="443.6" x2="78.15" y2="385.98" stroke="#a0a0a0" stroke-width="0.4" stroke-opacity="0.5"/>
<line x1="145.2" y1="443.6" x2="202.08" y2="402.79" stroke="#a0a0a0" stroke-width="0.4" stroke-opacity="0.5"/>
<line x1="139.3" y1="454.5" x2="140.1" y2="475.5" stroke="#a0a0a0" stroke-width="0.4" stroke-opacity="0.5"/>
<line x1="139.3" y1="454.5" x2="57.64" y2="382.96" stroke="#a0a0a0" stroke-width="0.4" stroke-opacity="0.5"/>
<line x1="139.3" y1="454.5" x2="216.91" y2="398.45" stroke="#a0a0a0" stroke-width="0.4" stroke-opacity="0.5"/>
<line x1="210.1" y1="374.2" x2="206.74" y2="422.83" stroke="#a0a0a0" stroke-width="0.4" stroke-opacity="0.5"/>
<line x1="210.1" y1="374.2" x2="125.76" y2="311.93" stroke="#a0a0a0" stroke-width="0.4" stroke-opacity="0.5"/>
<line x1="210.1" y1="374.2" x2="216.64" y2="369.62" stroke="#a0a0a0" stroke-width="0.4" stroke-opacity="0.5"/>
<line x1="194.3" y1="383.9" x2="192.46" y2="423.3" stroke="#a0a0a0" stroke-width="0.4" stroke-opacity="0.5"/>
<line x1="194.3" y1="383.9" x2="118.18" y2="326.11" stroke="#a0a0a0" stroke-width="0.4" stroke-opacity="0.5"/>
<line x1="194.3" y1="383.9" x2="208.95" y2="373.66" stroke="#a0a0a0" stroke-width="0.4" stroke-opacity="0.5"/>
<line x1="207.8" y1="388" x2="205.43" y2="423.4" stroke="#a0a0a0" stroke-width="0.4" stroke-opacity="0.5"/>
<line x1="207.8" y1="388" x2="125.32" y2="325.87" stroke="#a0a0a0" stroke-width="0.4" stroke-opacity="0.5"/>
<line x1="207.8" y1="388" x2="215.34" y2="382.66" stroke="#a0a0a0" stroke-width="0.4" stroke-opacity="0.5"/>
<line x1="184.5" y1="395.1" x2="184.32" y2="400.5" stroke="#a0a0a0" stroke-width="0.4" stroke-opacity="0.5"/>
<line x1="184.5" y1="395.1" x2="131" y2="353.49" stroke="#a0a0a0" stroke-width="0.4" stroke-opacity="0.5"/>
<line x1="184.5" y1="395.1" x2="187.47" y2="393.02" stroke="#a0a0a0" stroke-width="0.4" stroke-opacity="0.5"/>
<line x1="191.1" y1="395.6" x2="190.13" y2="418.4" stroke="#a0a0a0" stroke-width="0.4" stroke-opacity="0.5"/>
<line x1="191.1" y1="395.6" x2="121.21" y2="341.56" stroke="#a0a0a0" stroke-width="0.4" stroke-opacity="0.5"/>
<line x1="191.1" y1="395.6" x2="203.33" y2="386.97" stroke="#a0a0a0" stroke-width="0.4" stroke-opacity="0.5"/>
<line x1="208.2" y1="401.3" x2="206.92" y2="419.8" stroke="#a0a0a0" stroke-width="0.4" stroke-opacity="0.5"/>
<line x1="208.2" y1="401.3" x2="129.35" y2="340.9" stroke="#a0a0a0" stroke-width="0.4" stroke-opacity="0.5"/>
<line x1="208.2" y1="401.3" x2="212.32" y2="398.33" stroke="#a0a0a0" stroke-width="0.4" stroke-opacity="0.5"/>
<line x1="60.4" y1="412.3" x2="61.07" y2="416.55" stroke="#a0a0a0" stroke-width="0.4" stroke-opacity="0.5"/>
<line x1="60.4" y1="412.3" x2="52.59" y2="405.22" stroke="#a0a0a0" stroke-width="0.4" stroke-opacity="0.5"/>
<line x1="60.4" y1="412.3" x2="142.02" y2="358.94" stroke="#a0a0a0" stroke-width="0.4" stroke-opacity="0.5"/>
<circle cx="77.32" cy="410" r="0.65" fill="#f08a68" fill-opacity="0.8"/>
<circle cx="60.27" cy="355.33" r="0.65" fill="#f08a68" fill-opacity="0.8"/>
<circle cx="143.72" cy="319.45" r="0.65" fill="#f08a68" fill-opacity="0.8"/>
<circle cx="87.55" cy="397.4" r="0.65" fill="#f08a68" fill-opacity="0.8"/>
<circle cx="77" cy="360.08" r="0.65" fill="#f08a68" fill-opacity="0.8"/>
<circle cx="139.99" cy="330.51" r="0.65" fill="#f08a68" fill-opacity="0.8"/>
<circle cx="74.56" cy="428" r="0.65" fill="#f08a68" fill-opacity="0.8"/>
<circle cx="47.49" cy="371.07" r="0.65" fill="#f08a68" fill-opacity="0.8"/>
<circle cx="155.1" cy="334.98" r="0.65" fill="#f08a68" fill-opacity="0.8"/>
<circle cx="80.83" cy="407.79" r="0.65" fill="#f08a68" fill-opacity="0.8"/>
<circle cx="67.99" cy="382.15" r="0.65" fill="#f08a68" fill-opacity="0.8"/>
<circle cx="144.54" cy="348.92" r="0.65" fill="#f08a68" fill-opacity="0.8"/>
<circle cx="84.94" cy="413.2" r="0.65" fill="#f08a68" fill-opacity="0.8"/>
<circle cx="66.58" cy="381.27" r="0.65" fill="#f08a68" fill-opacity="0.8"/>
<circle cx="150.02" cy="351.46" r="0.65" fill="#f08a68" fill-opacity="0.8"/>
<circle cx="81.84" cy="412.36" r="0.65" fill="#f08a68" fill-opacity="0.8"/>
<circle cx="66.35" cy="389.23" r="0.65" fill="#f08a68" fill-opacity="0.8"/>
<circle cx="148.2" cy="357.22" r="0.65" fill="#f08a68" fill-opacity="0.8"/>
<circle cx="108.63" cy="417.9" r="0.65" fill="#f08a68" fill-opacity="0.8"/>
<circle cx="74.85" cy="356.19" r="0.65" fill="#f08a68" fill-opacity="0.8"/>
<circle cx="164.03" cy="343.54" r="0.65" fill="#f08a68" fill-opacity="0.8"/>
<circle cx="129.01" cy="391.4" r="0.65" fill="#f08a68" fill-opacity="0.8"/>
<circle cx="106.26" cy="353.93" r="0.65" fill="#f08a68" fill-opacity="0.8"/>
<circle cx="155.25" cy="353.42" r="0.65" fill="#f08a68" fill-opacity="0.8"/>
<circle cx="134.77" cy="440.4" r="0.65" fill="#f08a68" fill-opacity="0.8"/>
<circle cx="73.08" cy="341.21" r="0.65" fill="#f08a68" fill-opacity="0.8"/>
<circle cx="192.62" cy="349.23" r="0.65" fill="#f08a68" fill-opacity="0.8"/>
<circle cx="146.66" cy="373.3" r="0.65" fill="#f08a68" fill-opacity="0.8"/>
<circle cx="127.51" cy="314.13" r="0.65" fill="#f08a68" fill-opacity="0.8"/>
<circle cx="150.41" cy="324.46" r="0.65" fill="#f08a68" fill-opacity="0.8"/>
<circle cx="139.71" cy="365.3" r="0.65" fill="#f08a68" fill-opacity="0.8"/>
<circle cx="129.92" cy="325" r="0.65" fill="#f08a68" fill-opacity="0.8"/>
<circle cx="141.47" cy="329.69" r="0.65" fill="#f08a68" fill-opacity="0.8"/>
<circle cx="142.39" cy="367.6" r="0.65" fill="#f08a68" fill-opacity="0.8"/>
<circle cx="129.91" cy="328.08" r="0.65" fill="#f08a68" fill-opacity="0.8"/>
<circle cx="144.5" cy="334.89" r="0.65" fill="#f08a68" fill-opacity="0.8"/>
<circle cx="137.79" cy="363.4" r="0.65" fill="#f08a68" fill-opacity="0.8"/>
<circle cx="130.96" cy="342.02" r="0.65" fill="#f08a68" fill-opacity="0.8"/>
<circle cx="139.71" cy="345.18" r="0.65" fill="#f08a68" fill-opacity="0.8"/>
<circle cx="150.61" cy="396.31" r="0.65" fill="#f08a68" fill-opacity="0.8"/>
<circle cx="114.01" cy="334.82" r="0.65" fill="#f08a68" fill-opacity="0.8"/>
<circle cx="168.97" cy="350.08" r="0.65" fill="#f08a68" fill-opacity="0.8"/>
<circle cx="150.65" cy="395.5" r="0.65" fill="#f08a68" fill-opacity="0.8"/>
<circle cx="115.54" cy="348.7" r="0.65" fill="#f08a68" fill-opacity="0.8"/>
<circle cx="168.3" cy="363.93" r="0.65" fill="#f08a68" fill-opacity="0.8"/>
<circle cx="146.72" cy="430.5" r="0.65" fill="#f08a68" fill-opacity="0.8"/>
<circle cx="87.36" cy="339.15" r="0.65" fill="#f08a68" fill-opacity="0.8"/>
<circle cx="191.37" cy="354.8" r="0.65" fill="#f08a68" fill-opacity="0.8"/>
<circle cx="131.97" cy="451.5" r="0.65" fill="#f08a68" fill-opacity="0.8"/>
<circle cx="65.58" cy="357.99" r="0.65" fill="#f08a68" fill-opacity="0.8"/>
<circle cx="198.35" cy="365.17" r="0.65" fill="#f08a68" fill-opacity="0.8"/>
<circle cx="116.12" cy="443.3" r="0.65" fill="#f08a68" fill-opacity="0.8"/>
<circle cx="65.74" cy="387.9" r="0.65" fill="#f08a68" fill-opacity="0.8"/>
<circle cx="184.23" cy="383.26" r="0.65" fill="#f08a68" fill-opacity="0.8"/>
<circle cx="128.5" cy="471.3" r="0.65" fill="#f08a68" fill-opacity="0.8"/>
<circle cx="50.13" cy="362.64" r="0.65" fill="#f08a68" fill-opacity="0.8"/>
<circle cx="210.28" cy="369.24" r="0.65" fill="#f08a68" fill-opacity="0.8"/>
<circle cx="145.39" cy="450.3" r="0.65" fill="#f08a68" fill-opacity="0.8"/>
<circle cx="78.15" cy="385.98" r="0.65" fill="#f08a68" fill-opacity="0.8"/>
<circle cx="202.08" cy="402.79" r="0.65" fill="#f08a68" fill-opacity="0.8"/>
<circle cx="140.1" cy="475.5" r="0.65" fill="#f08a68" fill-opacity="0.8"/>
<circle cx="57.64" cy="382.96" r="0.65" fill="#f08a68" fill-opacity="0.8"/>
<circle cx="216.91" cy="398.45" r="0.65" fill="#f08a68" fill-opacity="0.8"/>
<circle cx="206.74" cy="422.83" r="0.65" fill="#f08a68" fill-opacity="0.8"/>
<circle cx="125.76" cy="311.93" r="0.65" fill="#f08a68" fill-opacity="0.8"/>
<circle cx="216.64" cy="369.62" r="0.65" fill="#f08a68" fill-opacity="0.8"/>
<circle cx="192.46" cy="423.3" r="0.65" fill="#f08a68" fill-opacity="0.8"/>
<circle cx="118.18" cy="326.11" r="0.65" fill="#f08a68" fill-opacity="0.8"/>
<circle cx="208.95" cy="373.66" r="0.65" fill="#f08a68" fill-opacity="0.8"/>
<circle cx="205.43" cy="423.4" r="0.65" fill="#f08a68" fill-opacity="0.8"/>
<circle cx="125.32" cy="325.87" r="0.65" fill="#f08a68" fill-opacity="0.8"/>
<circle cx="215.34" cy="382.66" r="0.65" fill="#f08a68" fill-opacity="0.8"/>
<circle cx="184.32" cy="400.5" r="0.65" fill="#f08a68" fill-opacity="0.8"/>
<circle cx="131" cy="353.49" r="0.65" fill="#f08a68" fill-opacity="0.8"/>
<circle cx="187.47" cy="393.02" r="0.65" fill="#f08a68" fill-opacity="0.8"/>
<circle cx="190.13" cy="418.4" r="0.65" fill="#f08a68" fill-opacity="0.8"/>
<circle cx="121.21" cy="341.56" r="0.65" fill="#f08a68" fill-opacity="0.8"/>
<circle cx="203.33" cy="386.97" r="0.65" fill="#f08a68" fill-opacity="0.8"/>
<circle cx="206.92" cy="419.8" r="0.65" fill="#f08a68" fill-opacity="0.8"/>
<circle cx="129.35" cy="340.9" r="0.65" fill="#f08a68" fill-opacity="0.8"/>
<circle cx="212.32" cy="398.33" r="0.65" fill="#f08a68" fill-opacity="0.8"/>
<circle cx="61.07" cy="416.55" r="0.65" fill="#f08a68" fill-opacity="0.8"/>
<circle cx="52.59" cy="405.22" r="0.65" fill="#f08a68" fill-opacity="0.8"/>
<circle cx="142.02" cy="358.94" r="0.65" fill="#f08a68" fill-opacity="0.8"/>
<text x="117.5" y="290.3" font-size="8.2" font-weight="bold" text-anchor="start" fill="#111">Z (mm)</text>
<text x="127.6" y="301" font-size="7.5" font-weight="bold" text-anchor="end" fill="#111">100</text>
<text style="stroke:none" x="127.6" y="331.6" font-size="7" font-weight="bold" text-anchor="end" fill="#2a2a2a">50</text>
<text style="stroke:none" x="129.8" y="359.6" font-size="7" font-weight="bold" text-anchor="end" fill="#222">0</text>
<text x="36.4" y="421.2" font-size="7" font-weight="bold" text-anchor="end" fill="#111">0</text>
<text x="36.3" y="457.4" font-size="8.6" font-weight="bold" text-anchor="start" fill="#111">X (mm)</text>
<text x="75.3" y="457.3" font-size="7.5" font-weight="bold" text-anchor="end" fill="#111">75</text>
<text x="117.2" y="497.3" font-size="7.5" font-weight="bold" text-anchor="end" fill="#111">150</text>
<text x="128.4" y="497.3" font-size="7.5" font-weight="bold" text-anchor="start" fill="#111">0</text>
<text x="177.6" y="459.8" font-size="7.5" font-weight="bold" text-anchor="start" fill="#111">75</text>
<text x="192.6" y="460.1" font-size="8.8" font-weight="bold" text-anchor="start" fill="#111">Y (mm)</text>
<text x="223" y="426" font-size="7.5" font-weight="bold" text-anchor="start" fill="#111">150</text>
<line x1="117.5" y1="493.4" x2="122.8" y2="493.4" stroke="#222" stroke-width="0.8"/>
<line x1="76.5" y1="453.6" x2="80.2" y2="453.6" stroke="#222" stroke-width="0.8"/>
<line x1="122.8" y1="493.4" x2="128" y2="493.4" stroke="#222" stroke-width="0.8"/>
<line x1="172.3" y1="456.7" x2="176.2" y2="456.7" stroke="#222" stroke-width="0.8"/>
<line x1="218.3" y1="422.6" x2="222.3" y2="422.6" stroke="#222" stroke-width="0.8"/>
<line x1="37.5" y1="417.3" x2="41.3" y2="417.3" stroke="#222" stroke-width="0.8"/>
<line x1="128" y1="298.6" x2="131.8" y2="298.6" stroke="#222" stroke-width="0.8"/>
<line x1="129.3" y1="329" x2="133" y2="329" stroke="#222" stroke-width="0.8"/>
<line x1="52.09" y1="429.63" x2="53.89" y2="429.03" stroke="#333" stroke-width="0.8"/>
<line x1="139.72" y1="480.81" x2="141.52" y2="481.41" stroke="#333" stroke-width="0.8"/>
<line x1="65.06" y1="441.72" x2="66.86" y2="441.12" stroke="#333" stroke-width="0.8"/>
<line x1="156.18" y1="468.6" x2="157.98" y2="469.2" stroke="#333" stroke-width="0.8"/>
<line x1="92.2" y1="467.02" x2="94" y2="466.42" stroke="#333" stroke-width="0.8"/>
<line x1="187.95" y1="445.04" x2="189.75" y2="445.64" stroke="#333" stroke-width="0.8"/>
<line x1="106.41" y1="480.26" x2="108.21" y2="479.66" stroke="#333" stroke-width="0.8"/>
<line x1="203.28" y1="433.67" x2="205.08" y2="434.27" stroke="#333" stroke-width="0.8"/>
<circle cx="71.4" cy="364.7" r="3.4" fill="url(#g6)"/>
<circle cx="84" cy="365.9" r="3.4" fill="url(#g5)"/>
<circle cx="69.3" cy="390.1" r="3.4" fill="url(#g3)"/>
<circle cx="78.8" cy="391.5" r="3.4" fill="url(#g8)"/>
<circle cx="82.8" cy="395.3" r="3.4" fill="url(#g6)"/>
<circle cx="80.5" cy="401.6" r="3.4" fill="url(#g8)"/>
<circle cx="105.6" cy="381.7" r="3.4" fill="url(#g3)"/>
<circle cx="128" cy="371.3" r="3.4" fill="url(#g2)"/>
<circle cx="132.5" cy="389.6" r="3.4" fill="url(#g2)"/>
<circle cx="145.6" cy="327.5" r="3.4" fill="url(#g2)"/>
<circle cx="138.6" cy="331.5" r="3.4" fill="url(#g13)"/>
<circle cx="141.5" cy="336.8" r="3.4" fill="url(#g2)"/>
<circle cx="137.2" cy="346.8" r="3.4" fill="url(#g9)"/>
<circle cx="150" cy="362.6" r="3.4" fill="url(#g13)"/>
<circle cx="150.3" cy="376" r="3.4" fill="url(#g9)"/>
<circle cx="145.6" cy="385.7" r="3.4" fill="url(#g13)"/>
<circle cx="130" cy="412.1" r="3.4" fill="url(#g13)"/>
<circle cx="115.2" cy="431.1" r="3.4" fill="url(#g6)"/>
<circle cx="126" cy="427.9" r="3.4" fill="url(#g13)"/>
<circle cx="145.2" cy="443.6" r="3.4" fill="url(#g2)"/>
<circle cx="139.3" cy="454.5" r="3.4" fill="url(#g4)"/>
<circle cx="210.1" cy="374.2" r="3.4" fill="url(#g10)"/>
<circle cx="194.3" cy="383.9" r="3.4" fill="url(#g4)"/>
<circle cx="207.8" cy="388" r="3.4" fill="url(#g1)"/>
<circle cx="184.5" cy="395.1" r="3.4" fill="url(#g10)"/>
<circle cx="191.1" cy="395.6" r="3.4" fill="url(#g4)"/>
<circle cx="208.2" cy="401.3" r="3.4" fill="url(#g10)"/>
<circle cx="60.4" cy="412.3" r="3.4" fill="url(#g11)"/>
<circle cx="278.2" cy="300.5" r="4.7" fill="url(#g12)"/>
<circle cx="278.2" cy="316.3" r="4.7" fill="url(#g8)"/>
<text x="291" y="304.8" font-size="9.5" font-weight="bold">P<tspan font-size="7.5" dy="2.5">reg</tspan></text>
<text x="307.3" y="300" font-size="8" font-weight="bold">'</text>
<text x="291" y="320.6" font-size="9.5" font-weight="bold">P<tspan font-size="7.5" dy="2.5">1</tspan></text>
<text x="299.8" y="316" font-size="8" font-weight="bold">'</text>
<text x="256.7" y="337.6" font-size="9.5" font-weight="bold" word-spacing="1">δ = lP<tspan font-size="7" dy="2">1</tspan><tspan dy="-2">' – P</tspan><tspan font-size="7" dy="2">2</tspan><tspan dy="-2">'l (mm)</tspan></text>
<rect x="271.3" y="352.4" width="8.1" height="11.36" fill="#1b4628"/>
<rect x="271.3" y="363.46" width="8.1" height="11.36" fill="#24643a"/>
<rect x="271.3" y="374.53" width="8.1" height="11.36" fill="#2e7a42"/>
<rect x="271.3" y="385.59" width="8.1" height="11.36" fill="#3a8c4a"/>
<rect x="271.3" y="396.65" width="8.1" height="11.36" fill="#4aa858"/>
<rect x="271.3" y="407.72" width="8.1" height="11.36" fill="#64bc6c"/>
<rect x="271.3" y="418.78" width="8.1" height="11.36" fill="#8ed07e"/>
<rect x="271.3" y="429.85" width="8.1" height="11.36" fill="#a8dc8c"/>
<rect x="271.3" y="440.91" width="8.1" height="11.36" fill="#cdeaa0"/>
<rect x="271.3" y="451.97" width="8.1" height="11.36" fill="#e6f2b0"/>
<rect x="271.3" y="463.04" width="8.1" height="11.36" fill="#f1efe0"/>
<rect x="271.3" y="352.4" width="8.1" height="121.7" fill="none" stroke="#555" stroke-width="0.8"/>
<line x1="279.4" y1="353.2" x2="282.9" y2="353.2" stroke="#333" stroke-width="0.8"/>
<text x="286" y="355.8" font-size="7.2" font-weight="bold" text-anchor="start" fill="#111">1.10</text>
<line x1="279.4" y1="364.19" x2="282.9" y2="364.19" stroke="#333" stroke-width="0.8"/>
<text x="286" y="366.79" font-size="7.2" font-weight="bold" text-anchor="start" fill="#111">1.66</text>
<line x1="279.4" y1="375.18" x2="282.9" y2="375.18" stroke="#333" stroke-width="0.8"/>
<text x="286" y="377.78" font-size="7.2" font-weight="bold" text-anchor="start" fill="#111">2.22</text>
<line x1="279.4" y1="386.17" x2="282.9" y2="386.17" stroke="#333" stroke-width="0.8"/>
<text x="286" y="388.77" font-size="7.2" font-weight="bold" text-anchor="start" fill="#111">2.78</text>
<line x1="279.4" y1="397.16" x2="282.9" y2="397.16" stroke="#333" stroke-width="0.8"/>
<text x="286" y="399.76" font-size="7.2" font-weight="bold" text-anchor="start" fill="#111">3.34</text>
<line x1="279.4" y1="408.15" x2="282.9" y2="408.15" stroke="#333" stroke-width="0.8"/>
<text x="286" y="410.75" font-size="7.2" font-weight="bold" text-anchor="start" fill="#111">3.90</text>
<line x1="279.4" y1="419.15" x2="282.9" y2="419.15" stroke="#333" stroke-width="0.8"/>
<text x="286" y="421.75" font-size="7.2" font-weight="bold" text-anchor="start" fill="#111">4.46</text>
<line x1="279.4" y1="430.14" x2="282.9" y2="430.14" stroke="#333" stroke-width="0.8"/>
<text x="286" y="432.74" font-size="7.2" font-weight="bold" text-anchor="start" fill="#111">5.02</text>
<line x1="279.4" y1="441.13" x2="282.9" y2="441.13" stroke="#333" stroke-width="0.8"/>
<text x="286" y="443.73" font-size="7.2" font-weight="bold" text-anchor="start" fill="#111">5.58</text>
<line x1="279.4" y1="452.12" x2="282.9" y2="452.12" stroke="#333" stroke-width="0.8"/>
<text x="286" y="454.72" font-size="7.2" font-weight="bold" text-anchor="start" fill="#111">6.14</text>
<line x1="279.4" y1="463.11" x2="282.9" y2="463.11" stroke="#333" stroke-width="0.8"/>
<text x="286" y="465.71" font-size="7.2" font-weight="bold" text-anchor="start" fill="#111">6.70</text>
<line x1="279.4" y1="474.1" x2="282.9" y2="474.1" stroke="#333" stroke-width="0.8"/>
<text x="286" y="476.7" font-size="7.2" font-weight="bold" text-anchor="start" fill="#111">7.26</text>
<rect x="403.4" y="397.87" width="77.8" height="81.53" fill="#fbfde8"/>
<rect x="403.4" y="444.69" width="35.77" height="34.71" fill="#f5ead6"/>
<circle cx="419.8" cy="466.4" r="2.3" fill="url(#g14)"/>
<circle cx="422.1" cy="464.1" r="2.3" fill="url(#g14)"/>
<circle cx="423.6" cy="462.5" r="2.3" fill="url(#g14)"/>
<circle cx="451.9" cy="432.8" r="2.3" fill="url(#g14)"/>
<circle cx="451.9" cy="438.4" r="2.3" fill="url(#g14)"/>
<circle cx="460" cy="424.7" r="2.3" fill="url(#g14)"/>
<circle cx="479.6" cy="406.4" r="2.3" fill="url(#g14)"/>
<circle cx="483.6" cy="407.9" r="2.3" fill="url(#g14)"/>
<circle cx="491" cy="397.4" r="2.3" fill="url(#g14)"/>
<circle cx="492.9" cy="400.4" r="2.3" fill="url(#g14)"/>
<circle cx="501.7" cy="385.2" r="2.3" fill="url(#g14)"/>
<circle cx="502.8" cy="392.3" r="2.3" fill="url(#g14)"/>
<circle cx="508.6" cy="385.6" r="2.3" fill="url(#g14)"/>
<circle cx="518.8" cy="376" r="2.3" fill="url(#g14)"/>
<circle cx="524.7" cy="347.5" r="2.3" fill="url(#g14)"/>
<circle cx="541.5" cy="349.8" r="2.3" fill="url(#g14)"/>
<circle cx="541.8" cy="339.9" r="2.3" fill="url(#g14)"/>
<circle cx="544.1" cy="339.6" r="2.3" fill="url(#g14)"/>
<circle cx="546.7" cy="338.8" r="2.3" fill="url(#g14)"/>
<circle cx="553.2" cy="339.9" r="2.3" fill="url(#g14)"/>
<circle cx="545.9" cy="325.5" r="2.3" fill="url(#g14)"/>
<circle cx="556.7" cy="333.8" r="2.3" fill="url(#g14)"/>
<circle cx="560.8" cy="332.4" r="2.3" fill="url(#g14)"/>
<circle cx="563.6" cy="325.1" r="2.3" fill="url(#g14)"/>
<circle cx="580" cy="308" r="2.3" fill="url(#g14)"/>
<circle cx="592.7" cy="308.3" r="2.3" fill="url(#g14)"/>
<circle cx="429.7" cy="461.8" r="2.3" fill="url(#g15)"/>
<circle cx="432.8" cy="460.7" r="2.3" fill="url(#g15)"/>
<circle cx="441.2" cy="455.2" r="2.3" fill="url(#g15)"/>
<circle cx="461" cy="425.2" r="2.3" fill="url(#g15)"/>
<circle cx="474" cy="417.1" r="2.3" fill="url(#g15)"/>
<circle cx="489.8" cy="413.1" r="2.3" fill="url(#g15)"/>
<circle cx="509.2" cy="412.6" r="2.3" fill="url(#g15)"/>
<circle cx="489.8" cy="387" r="2.3" fill="url(#g15)"/>
<circle cx="493.6" cy="392" r="2.3" fill="url(#g15)"/>
<circle cx="496.7" cy="376.8" r="2.3" fill="url(#g15)"/>
<circle cx="499.7" cy="382.9" r="2.3" fill="url(#g15)"/>
<circle cx="508.9" cy="373.4" r="2.3" fill="url(#g15)"/>
<circle cx="498" cy="359.9" r="2.3" fill="url(#g15)"/>
<circle cx="519.4" cy="359.9" r="2.3" fill="url(#g15)"/>
<circle cx="523.3" cy="387.2" r="2.3" fill="url(#g15)"/>
<circle cx="526.9" cy="375.8" r="2.3" fill="url(#g15)"/>
<circle cx="532.9" cy="371.8" r="2.3" fill="url(#g15)"/>
<circle cx="533.6" cy="366" r="2.3" fill="url(#g15)"/>
<circle cx="538.1" cy="367.9" r="2.3" fill="url(#g15)"/>
<circle cx="542.6" cy="367.9" r="2.3" fill="url(#g15)"/>
<circle cx="546.9" cy="364.8" r="2.3" fill="url(#g15)"/>
<circle cx="548.1" cy="366.5" r="2.3" fill="url(#g15)"/>
<circle cx="541" cy="359.8" r="2.3" fill="url(#g15)"/>
<circle cx="542.1" cy="382.9" r="2.3" fill="url(#g15)"/>
<circle cx="559" cy="348.4" r="2.3" fill="url(#g15)"/>
<circle cx="574.1" cy="347.7" r="2.3" fill="url(#g15)"/>
<circle cx="578.7" cy="346.9" r="2.3" fill="url(#g15)"/>
<circle cx="425.2" cy="465.6" r="2.3" fill="url(#g16)"/>
<circle cx="431.6" cy="453.1" r="2.3" fill="url(#g16)"/>
<circle cx="440" cy="430.5" r="2.3" fill="url(#g16)"/>
<circle cx="440" cy="434.8" r="2.3" fill="url(#g16)"/>
<circle cx="458" cy="422.6" r="2.3" fill="url(#g16)"/>
<circle cx="470.9" cy="409.2" r="2.3" fill="url(#g16)"/>
<circle cx="491" cy="433.3" r="2.3" fill="url(#g16)"/>
<circle cx="491.4" cy="400.4" r="2.3" fill="url(#g16)"/>
<circle cx="505.1" cy="389.7" r="2.3" fill="url(#g16)"/>
<circle cx="531" cy="377" r="2.3" fill="url(#g16)"/>
<circle cx="538.1" cy="375.6" r="2.3" fill="url(#g16)"/>
<circle cx="531.3" cy="391.2" r="2.3" fill="url(#g16)"/>
<circle cx="538.1" cy="385.8" r="2.3" fill="url(#g16)"/>
<circle cx="542.4" cy="363.8" r="2.3" fill="url(#g16)"/>
<circle cx="547.4" cy="369.8" r="2.3" fill="url(#g16)"/>
<circle cx="546.2" cy="382.2" r="2.3" fill="url(#g16)"/>
<circle cx="546.2" cy="393.1" r="2.3" fill="url(#g16)"/>
<circle cx="555.1" cy="370.8" r="2.3" fill="url(#g16)"/>
<circle cx="558.4" cy="367.9" r="2.3" fill="url(#g16)"/>
<circle cx="563.9" cy="372.4" r="2.3" fill="url(#g16)"/>
<circle cx="558.2" cy="385.1" r="2.3" fill="url(#g16)"/>
<circle cx="546.5" cy="355" r="2.3" fill="url(#g16)"/>
<circle cx="582.5" cy="344.6" r="2.3" fill="url(#g16)"/>
<circle cx="596.8" cy="332" r="2.3" fill="url(#g16)"/>
<circle cx="611" cy="327.4" r="2.3" fill="url(#g16)"/>
<circle cx="619.1" cy="321.6" r="2.3" fill="url(#g16)"/>
<circle cx="596.8" cy="354.4" r="2.3" fill="url(#g16)"/>
<line x1="403.4" y1="444.69" x2="636.8" y2="444.69" stroke="#f65a5a" stroke-width="1"/>
<line x1="439.17" y1="292.4" x2="439.17" y2="479.4" stroke="#f65a5a" stroke-width="1"/>
<line x1="403.4" y1="397.87" x2="636.8" y2="397.87" stroke="#f07878" stroke-width="0.8" stroke-dasharray="1,1.2"/>
<line x1="481.2" y1="292.4" x2="481.2" y2="479.4" stroke="#f07878" stroke-width="0.8" stroke-dasharray="1,1.2"/>
<rect x="407" y="294.5" width="95" height="29" fill="#fff"/>
<circle cx="415.2" cy="299.2" r="2.3" fill="url(#g14)"/>
<circle cx="415.2" cy="309.4" r="2.3" fill="url(#g15)"/>
<circle cx="415.2" cy="319.3" r="2.3" fill="url(#g16)"/>
<text x="426.9" y="302.5" font-size="8" fill="#222">Left Instrument Arm</text>
<text x="426.9" y="312.3" font-size="8" fill="#222">Endoscopic Arm</text>
<text x="426.9" y="322.1" font-size="8" fill="#222">Right Instrument Arm</text>
<rect x="403.4" y="292.4" width="233.4" height="187" fill="none" stroke="#222" stroke-width="1"/>
<line x1="421.5" y1="479.4" x2="421.5" y2="482.0" stroke="#333" stroke-width="1"/>
<text x="421.16" y="492.7" font-size="7.9" fill="#333" text-anchor="middle">25</text>
<line x1="451.5" y1="479.4" x2="451.5" y2="482.0" stroke="#333" stroke-width="1"/>
<text x="451.18" y="492.7" font-size="7.9" fill="#333" text-anchor="middle">50</text>
<line x1="481.5" y1="479.4" x2="481.5" y2="482.0" stroke="#333" stroke-width="1"/>
<text x="481.2" y="492.7" font-size="7.9" fill="#333" text-anchor="middle">75</text>
<line x1="511.5" y1="479.4" x2="511.5" y2="482.0" stroke="#333" stroke-width="1"/>
<text x="511.22" y="492.7" font-size="7.9" fill="#333" text-anchor="middle">100</text>
<line x1="541.5" y1="479.4" x2="541.5" y2="482.0" stroke="#333" stroke-width="1"/>
<text x="541.24" y="492.7" font-size="7.9" fill="#333" text-anchor="middle">125</text>
<line x1="571.5" y1="479.4" x2="571.5" y2="482.0" stroke="#333" stroke-width="1"/>
<text x="571.26" y="492.7" font-size="7.9" fill="#333" text-anchor="middle">150</text>
<line x1="601.5" y1="479.4" x2="601.5" y2="482.0" stroke="#333" stroke-width="1"/>
<text x="601.28" y="492.7" font-size="7.9" fill="#333" text-anchor="middle">175</text>
<line x1="631.5" y1="479.4" x2="631.5" y2="482.0" stroke="#333" stroke-width="1"/>
<text x="631.3" y="492.7" font-size="7.9" fill="#333" text-anchor="middle">200</text>
<line x1="409.5" y1="479.4" x2="409.5" y2="481.0" stroke="#444" stroke-width="0.9"/>
<line x1="415.5" y1="479.4" x2="415.5" y2="481.0" stroke="#444" stroke-width="0.9"/>
<line x1="427.5" y1="479.4" x2="427.5" y2="481.0" stroke="#444" stroke-width="0.9"/>
<line x1="433.5" y1="479.4" x2="433.5" y2="481.0" stroke="#444" stroke-width="0.9"/>
<line x1="439.5" y1="479.4" x2="439.5" y2="481.0" stroke="#444" stroke-width="0.9"/>
<line x1="445.5" y1="479.4" x2="445.5" y2="481.0" stroke="#444" stroke-width="0.9"/>
<line x1="457.5" y1="479.4" x2="457.5" y2="481.0" stroke="#444" stroke-width="0.9"/>
<line x1="463.5" y1="479.4" x2="463.5" y2="481.0" stroke="#444" stroke-width="0.9"/>
<line x1="469.5" y1="479.4" x2="469.5" y2="481.0" stroke="#444" stroke-width="0.9"/>
<line x1="475.5" y1="479.4" x2="475.5" y2="481.0" stroke="#444" stroke-width="0.9"/>
<line x1="487.5" y1="479.4" x2="487.5" y2="481.0" stroke="#444" stroke-width="0.9"/>
<line x1="493.5" y1="479.4" x2="493.5" y2="481.0" stroke="#444" stroke-width="0.9"/>
<line x1="499.5" y1="479.4" x2="499.5" y2="481.0" stroke="#444" stroke-width="0.9"/>
<line x1="505.5" y1="479.4" x2="505.5" y2="481.0" stroke="#444" stroke-width="0.9"/>
<line x1="517.5" y1="479.4" x2="517.5" y2="481.0" stroke="#444" stroke-width="0.9"/>
<line x1="523.5" y1="479.4" x2="523.5" y2="481.0" stroke="#444" stroke-width="0.9"/>
<line x1="529.5" y1="479.4" x2="529.5" y2="481.0" stroke="#444" stroke-width="0.9"/>
<line x1="535.5" y1="479.4" x2="535.5" y2="481.0" stroke="#444" stroke-width="0.9"/>
<line x1="547.5" y1="479.4" x2="547.5" y2="481.0" stroke="#444" stroke-width="0.9"/>
<line x1="553.5" y1="479.4" x2="553.5" y2="481.0" stroke="#444" stroke-width="0.9"/>
<line x1="559.5" y1="479.4" x2="559.5" y2="481.0" stroke="#444" stroke-width="0.9"/>
<line x1="565.5" y1="479.4" x2="565.5" y2="481.0" stroke="#444" stroke-width="0.9"/>
<line x1="577.5" y1="479.4" x2="577.5" y2="481.0" stroke="#444" stroke-width="0.9"/>
<line x1="583.5" y1="479.4" x2="583.5" y2="481.0" stroke="#444" stroke-width="0.9"/>
<line x1="589.5" y1="479.4" x2="589.5" y2="481.0" stroke="#444" stroke-width="0.9"/>
<line x1="595.5" y1="479.4" x2="595.5" y2="481.0" stroke="#444" stroke-width="0.9"/>
<line x1="607.5" y1="479.4" x2="607.5" y2="481.0" stroke="#444" stroke-width="0.9"/>
<line x1="613.5" y1="479.4" x2="613.5" y2="481.0" stroke="#444" stroke-width="0.9"/>
<line x1="619.5" y1="479.4" x2="619.5" y2="481.0" stroke="#444" stroke-width="0.9"/>
<line x1="625.5" y1="479.4" x2="625.5" y2="481.0" stroke="#444" stroke-width="0.9"/>
<line x1="400.4" y1="468.5" x2="403.4" y2="468.5" stroke="#333" stroke-width="1"/>
<text x="397.6" y="470.9" font-size="7.9" fill="#333" text-anchor="end">1</text>
<line x1="400.4" y1="444.5" x2="403.4" y2="444.5" stroke="#333" stroke-width="1"/>
<text x="397.6" y="447.49" font-size="7.9" fill="#333" text-anchor="end">2</text>
<line x1="400.4" y1="421.5" x2="403.4" y2="421.5" stroke="#333" stroke-width="1"/>
<text x="397.6" y="424.08" font-size="7.9" fill="#333" text-anchor="end">3</text>
<line x1="400.4" y1="397.5" x2="403.4" y2="397.5" stroke="#333" stroke-width="1"/>
<text x="397.6" y="400.67" font-size="7.9" fill="#333" text-anchor="end">4</text>
<line x1="400.4" y1="374.5" x2="403.4" y2="374.5" stroke="#333" stroke-width="1"/>
<text x="397.6" y="377.26" font-size="7.9" fill="#333" text-anchor="end">5</text>
<line x1="400.4" y1="351.5" x2="403.4" y2="351.5" stroke="#333" stroke-width="1"/>
<text x="397.6" y="353.85" font-size="7.9" fill="#333" text-anchor="end">6</text>
<line x1="400.4" y1="327.5" x2="403.4" y2="327.5" stroke="#333" stroke-width="1"/>
<text x="397.6" y="330.44" font-size="7.9" fill="#333" text-anchor="end">7</text>
<line x1="400.4" y1="304.5" x2="403.4" y2="304.5" stroke="#333" stroke-width="1"/>
<text x="397.6" y="307.03" font-size="7.9" fill="#333" text-anchor="end">8</text>
<line x1="401.79999999999995" y1="477.5" x2="403.4" y2="477.5" stroke="#444" stroke-width="0.9"/>
<line x1="401.79999999999995" y1="472.5" x2="403.4" y2="472.5" stroke="#444" stroke-width="0.9"/>
<line x1="401.79999999999995" y1="463.5" x2="403.4" y2="463.5" stroke="#444" stroke-width="0.9"/>
<line x1="401.79999999999995" y1="458.5" x2="403.4" y2="458.5" stroke="#444" stroke-width="0.9"/>
<line x1="401.79999999999995" y1="454.5" x2="403.4" y2="454.5" stroke="#444" stroke-width="0.9"/>
<line x1="401.79999999999995" y1="449.5" x2="403.4" y2="449.5" stroke="#444" stroke-width="0.9"/>
<line x1="401.79999999999995" y1="440.5" x2="403.4" y2="440.5" stroke="#444" stroke-width="0.9"/>
<line x1="401.79999999999995" y1="435.5" x2="403.4" y2="435.5" stroke="#444" stroke-width="0.9"/>
<line x1="401.79999999999995" y1="430.5" x2="403.4" y2="430.5" stroke="#444" stroke-width="0.9"/>
<line x1="401.79999999999995" y1="425.5" x2="403.4" y2="425.5" stroke="#444" stroke-width="0.9"/>
<line x1="401.79999999999995" y1="416.5" x2="403.4" y2="416.5" stroke="#444" stroke-width="0.9"/>
<line x1="401.79999999999995" y1="411.5" x2="403.4" y2="411.5" stroke="#444" stroke-width="0.9"/>
<line x1="401.79999999999995" y1="407.5" x2="403.4" y2="407.5" stroke="#444" stroke-width="0.9"/>
<line x1="401.79999999999995" y1="402.5" x2="403.4" y2="402.5" stroke="#444" stroke-width="0.9"/>
<line x1="401.79999999999995" y1="393.5" x2="403.4" y2="393.5" stroke="#444" stroke-width="0.9"/>
<line x1="401.79999999999995" y1="388.5" x2="403.4" y2="388.5" stroke="#444" stroke-width="0.9"/>
<line x1="401.79999999999995" y1="383.5" x2="403.4" y2="383.5" stroke="#444" stroke-width="0.9"/>
<line x1="401.79999999999995" y1="379.5" x2="403.4" y2="379.5" stroke="#444" stroke-width="0.9"/>
<line x1="401.79999999999995" y1="369.5" x2="403.4" y2="369.5" stroke="#444" stroke-width="0.9"/>
<line x1="401.79999999999995" y1="365.5" x2="403.4" y2="365.5" stroke="#444" stroke-width="0.9"/>
<line x1="401.79999999999995" y1="360.5" x2="403.4" y2="360.5" stroke="#444" stroke-width="0.9"/>
<line x1="401.79999999999995" y1="355.5" x2="403.4" y2="355.5" stroke="#444" stroke-width="0.9"/>
<line x1="401.79999999999995" y1="346.5" x2="403.4" y2="346.5" stroke="#444" stroke-width="0.9"/>
<line x1="401.79999999999995" y1="341.5" x2="403.4" y2="341.5" stroke="#444" stroke-width="0.9"/>
<line x1="401.79999999999995" y1="337.5" x2="403.4" y2="337.5" stroke="#444" stroke-width="0.9"/>
<line x1="401.79999999999995" y1="332.5" x2="403.4" y2="332.5" stroke="#444" stroke-width="0.9"/>
<line x1="401.79999999999995" y1="322.5" x2="403.4" y2="322.5" stroke="#444" stroke-width="0.9"/>
<line x1="401.79999999999995" y1="318.5" x2="403.4" y2="318.5" stroke="#444" stroke-width="0.9"/>
<line x1="401.79999999999995" y1="313.5" x2="403.4" y2="313.5" stroke="#444" stroke-width="0.9"/>
<line x1="401.79999999999995" y1="308.5" x2="403.4" y2="308.5" stroke="#444" stroke-width="0.9"/>
<line x1="401.79999999999995" y1="299.5" x2="403.4" y2="299.5" stroke="#444" stroke-width="0.9"/>
<line x1="401.79999999999995" y1="294.5" x2="403.4" y2="294.5" stroke="#444" stroke-width="0.9"/>
<text x="480" y="507.5" font-size="9.6" font-weight="bold" word-spacing="0.8">δ<tspan font-size="7" dy="2">1</tspan><tspan dy="-2"> = lP</tspan><tspan font-size="7" dy="2">1</tspan><tspan dy="-2">' – P</tspan><tspan font-size="7" dy="2.2">reg</tspan><tspan dy="-2.2">'l (mm)</tspan></text>
<text transform="translate(378.4,424.5) rotate(-90)" x="0" y="0" font-size="9.6" font-weight="bold" word-spacing="0.8">δ<tspan font-size="7" dy="2">2</tspan><tspan dy="-2"> = lP</tspan><tspan font-size="7" dy="2">1</tspan><tspan dy="-2">' – P</tspan><tspan font-size="7" dy="2">2</tspan><tspan dy="-2">'l (mm)</tspan></text>
<text x="4.5" y="23" font-size="21" font-weight="bold">a.</text>
<text x="346.5" y="23" font-size="21" font-weight="bold">b.</text>
<text x="4.5" y="284" font-size="21" font-weight="bold">c.</text>
<text x="346.5" y="284" font-size="21" font-weight="bold">d.</text>
<rect x="0.5" y="0.5" width="684" height="523" fill="none" stroke="#7a7a7a" stroke-width="1"/>
<line x1="342.5" y1="0" x2="342.5" y2="524" stroke="#8a8a8a" stroke-width="1"/>
<line x1="0" y1="261.5" x2="685" y2="261.5" stroke="#8a8a8a" stroke-width="1"/>
</svg></body></html>
